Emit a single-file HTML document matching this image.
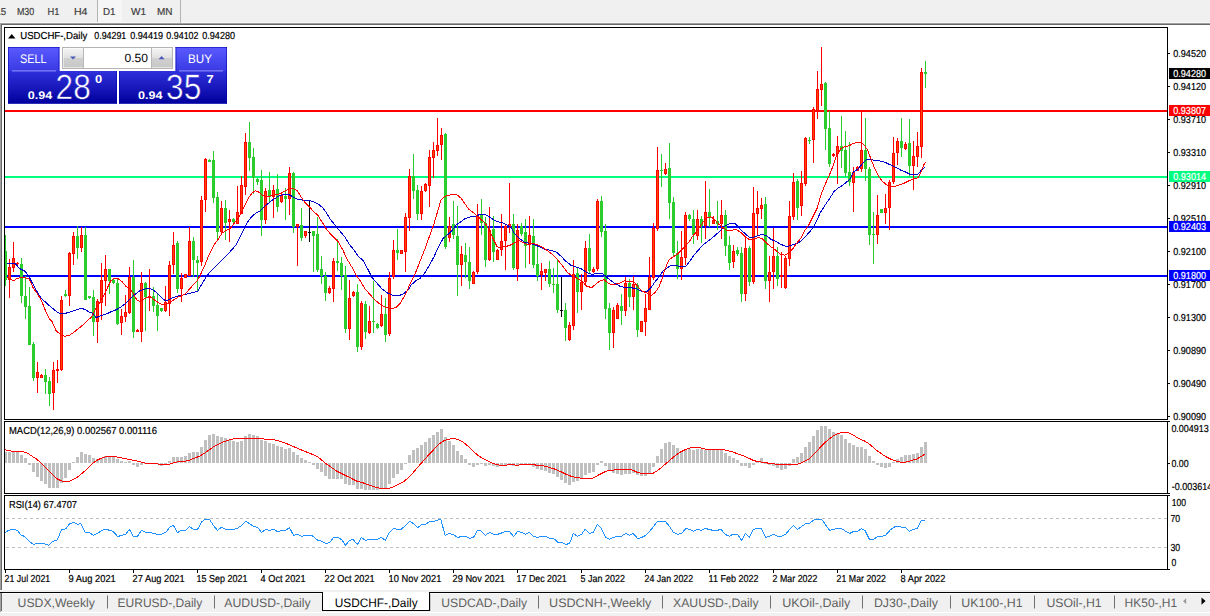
<!DOCTYPE html>
<html><head><meta charset="utf-8"><title>USDCHF Daily</title>
<style>
html,body{margin:0;padding:0;background:#fff;overflow:hidden}
svg{display:block;font-family:"Liberation Sans",sans-serif}
text{font-family:"Liberation Sans",sans-serif;text-rendering:geometricPrecision}
</style></head><body>
<svg width="1210" height="616" viewBox="0 0 1210 616">
<rect x="0" y="0" width="1210" height="616" fill="#fff" />
<rect x="0" y="0" width="1210" height="22" fill="#f0f0f0" />
<rect x="0" y="22" width="1210" height="1" fill="#f8f8f8" />
<rect x="0" y="23" width="1210" height="1" fill="#a0a0a0" />
<rect x="0" y="24" width="1210" height="1" fill="#696969" />
<rect x="0" y="23" width="1" height="567" fill="#a0a0a0" />
<rect x="1" y="24" width="1" height="566" fill="#696969" />
<rect x="97" y="0" width="1" height="22" fill="#b4b4b4" />
<rect x="98" y="0" width="24" height="22" fill="#f6f6f6" />
<rect x="180" y="0" width="1" height="23" fill="#b4b4b4" />
<text x="-4.6" y="15" font-size="10.1" fill="#404040" text-anchor="start" font-weight="normal" textLength="10.8" lengthAdjust="spacingAndGlyphs"  stroke="#404040" stroke-width="0.2">15</text>
<text x="16.9" y="15" font-size="10.1" fill="#404040" text-anchor="start" font-weight="normal" textLength="17.3" lengthAdjust="spacingAndGlyphs"  stroke="#404040" stroke-width="0.2">M30</text>
<text x="47.6" y="15" font-size="10.1" fill="#404040" text-anchor="start" font-weight="normal" textLength="11.9" lengthAdjust="spacingAndGlyphs"  stroke="#404040" stroke-width="0.2">H1</text>
<text x="74" y="15" font-size="10.1" fill="#404040" text-anchor="start" font-weight="normal" textLength="13.5" lengthAdjust="spacingAndGlyphs"  stroke="#404040" stroke-width="0.2">H4</text>
<text x="103" y="15" font-size="10.1" fill="#404040" text-anchor="start" font-weight="normal" textLength="12.5" lengthAdjust="spacingAndGlyphs"  stroke="#404040" stroke-width="0.2">D1</text>
<text x="131" y="15" font-size="10.1" fill="#404040" text-anchor="start" font-weight="normal" textLength="15" lengthAdjust="spacingAndGlyphs"  stroke="#404040" stroke-width="0.2">W1</text>
<text x="157" y="15" font-size="10.1" fill="#404040" text-anchor="start" font-weight="normal" textLength="15.5" lengthAdjust="spacingAndGlyphs"  stroke="#404040" stroke-width="0.2">MN</text>
<rect x="4" y="27" width="1164" height="1" fill="#000" />
<rect x="4" y="419" width="1164" height="1" fill="#000" />
<rect x="4" y="27" width="1" height="393" fill="#000" />
<rect x="1167" y="27" width="1" height="393" fill="#000" />
<rect x="4" y="421" width="1164" height="1" fill="#000" />
<rect x="4" y="493" width="1164" height="1" fill="#000" />
<rect x="4" y="421" width="1" height="73" fill="#000" />
<rect x="1167" y="421" width="1" height="73" fill="#000" />
<rect x="4" y="495" width="1164" height="1" fill="#000" />
<rect x="4" y="569" width="1164" height="1" fill="#000" />
<rect x="4" y="495" width="1" height="75" fill="#000" />
<rect x="1167" y="495" width="1" height="75" fill="#000" />
<g shape-rendering="crispEdges">
<rect x="5" y="110" width="1162" height="2" fill="#ff0000" />
<rect x="5" y="176" width="1162" height="2" fill="#00ff7f" />
<rect x="5" y="226" width="1162" height="2" fill="#0000ff" />
<rect x="5" y="275" width="1162" height="2" fill="#0000ff" />
<line x1="6" y1="518.5" x2="1167" y2="518.5" stroke="#c0c0c0" stroke-width="1" stroke-dasharray="3 3"/>
<line x1="6" y1="547.5" x2="1167" y2="547.5" stroke="#c0c0c0" stroke-width="1" stroke-dasharray="3 3"/>
<rect x="5" y="452" width="2" height="11" fill="#c0c0c0" />
<rect x="8" y="452" width="3" height="11" fill="#c0c0c0" />
<rect x="12" y="452" width="3" height="11" fill="#c0c0c0" />
<rect x="16" y="452" width="3" height="11" fill="#c0c0c0" />
<rect x="20" y="455" width="3" height="8" fill="#c0c0c0" />
<rect x="24" y="458" width="3" height="5" fill="#c0c0c0" />
<rect x="28" y="463" width="3" height="2" fill="#c0c0c0" />
<rect x="32" y="463" width="3" height="9" fill="#c0c0c0" />
<rect x="36" y="463" width="3" height="14" fill="#c0c0c0" />
<rect x="40" y="463" width="3" height="18" fill="#c0c0c0" />
<rect x="44" y="463" width="3" height="21" fill="#c0c0c0" />
<rect x="48" y="463" width="3" height="25" fill="#c0c0c0" />
<rect x="52" y="463" width="3" height="25" fill="#c0c0c0" />
<rect x="56" y="463" width="3" height="25" fill="#c0c0c0" />
<rect x="60" y="463" width="3" height="20" fill="#c0c0c0" />
<rect x="64" y="463" width="3" height="15" fill="#c0c0c0" />
<rect x="68" y="463" width="3" height="7" fill="#c0c0c0" />
<rect x="72" y="462" width="3" height="1" fill="#c0c0c0" />
<rect x="76" y="457" width="3" height="6" fill="#c0c0c0" />
<rect x="80" y="452" width="3" height="11" fill="#c0c0c0" />
<rect x="84" y="454" width="3" height="9" fill="#c0c0c0" />
<rect x="88" y="455" width="3" height="8" fill="#c0c0c0" />
<rect x="92" y="458" width="3" height="5" fill="#c0c0c0" />
<rect x="96" y="459" width="3" height="4" fill="#c0c0c0" />
<rect x="100" y="458" width="3" height="5" fill="#c0c0c0" />
<rect x="104" y="456" width="3" height="7" fill="#c0c0c0" />
<rect x="108" y="456" width="3" height="7" fill="#c0c0c0" />
<rect x="112" y="457" width="3" height="6" fill="#c0c0c0" />
<rect x="116" y="459" width="3" height="4" fill="#c0c0c0" />
<rect x="120" y="461" width="3" height="2" fill="#c0c0c0" />
<rect x="124" y="462" width="3" height="1" fill="#c0c0c0" />
<rect x="128" y="461" width="3" height="2" fill="#c0c0c0" />
<rect x="132" y="463" width="3" height="2" fill="#c0c0c0" />
<rect x="136" y="463" width="3" height="4" fill="#c0c0c0" />
<rect x="140" y="463" width="3" height="2" fill="#c0c0c0" />
<rect x="144" y="463" width="3" height="1" fill="#c0c0c0" />
<rect x="148" y="463" width="3" height="1" fill="#c0c0c0" />
<rect x="152" y="463" width="3" height="1" fill="#c0c0c0" />
<rect x="156" y="463" width="3" height="1" fill="#c0c0c0" />
<rect x="160" y="463" width="3" height="3" fill="#c0c0c0" />
<rect x="164" y="463" width="3" height="1" fill="#c0c0c0" />
<rect x="168" y="461" width="3" height="2" fill="#c0c0c0" />
<rect x="172" y="457" width="3" height="6" fill="#c0c0c0" />
<rect x="176" y="457" width="3" height="6" fill="#c0c0c0" />
<rect x="180" y="457" width="3" height="6" fill="#c0c0c0" />
<rect x="184" y="456" width="3" height="7" fill="#c0c0c0" />
<rect x="188" y="453" width="3" height="10" fill="#c0c0c0" />
<rect x="192" y="452" width="3" height="11" fill="#c0c0c0" />
<rect x="196" y="452" width="3" height="11" fill="#c0c0c0" />
<rect x="200" y="447" width="3" height="16" fill="#c0c0c0" />
<rect x="204" y="440" width="3" height="23" fill="#c0c0c0" />
<rect x="208" y="435" width="3" height="28" fill="#c0c0c0" />
<rect x="212" y="434" width="3" height="29" fill="#c0c0c0" />
<rect x="216" y="436" width="3" height="27" fill="#c0c0c0" />
<rect x="220" y="437" width="3" height="26" fill="#c0c0c0" />
<rect x="224" y="438" width="3" height="25" fill="#c0c0c0" />
<rect x="228" y="440" width="3" height="23" fill="#c0c0c0" />
<rect x="232" y="441" width="3" height="22" fill="#c0c0c0" />
<rect x="236" y="442" width="3" height="21" fill="#c0c0c0" />
<rect x="240" y="441" width="3" height="22" fill="#c0c0c0" />
<rect x="244" y="436" width="3" height="27" fill="#c0c0c0" />
<rect x="248" y="434" width="3" height="29" fill="#c0c0c0" />
<rect x="252" y="435" width="3" height="28" fill="#c0c0c0" />
<rect x="256" y="436" width="3" height="27" fill="#c0c0c0" />
<rect x="260" y="440" width="3" height="23" fill="#c0c0c0" />
<rect x="264" y="441" width="3" height="22" fill="#c0c0c0" />
<rect x="268" y="443" width="3" height="20" fill="#c0c0c0" />
<rect x="272" y="444" width="3" height="19" fill="#c0c0c0" />
<rect x="276" y="446" width="3" height="17" fill="#c0c0c0" />
<rect x="280" y="447" width="3" height="16" fill="#c0c0c0" />
<rect x="284" y="449" width="3" height="14" fill="#c0c0c0" />
<rect x="288" y="448" width="3" height="15" fill="#c0c0c0" />
<rect x="292" y="452" width="3" height="11" fill="#c0c0c0" />
<rect x="296" y="455" width="3" height="8" fill="#c0c0c0" />
<rect x="300" y="458" width="3" height="5" fill="#c0c0c0" />
<rect x="304" y="460" width="3" height="3" fill="#c0c0c0" />
<rect x="308" y="462" width="3" height="1" fill="#c0c0c0" />
<rect x="312" y="463" width="3" height="2" fill="#c0c0c0" />
<rect x="316" y="463" width="3" height="6" fill="#c0c0c0" />
<rect x="320" y="463" width="3" height="9" fill="#c0c0c0" />
<rect x="324" y="463" width="3" height="13" fill="#c0c0c0" />
<rect x="328" y="463" width="3" height="16" fill="#c0c0c0" />
<rect x="332" y="463" width="3" height="16" fill="#c0c0c0" />
<rect x="336" y="463" width="3" height="16" fill="#c0c0c0" />
<rect x="340" y="463" width="3" height="16" fill="#c0c0c0" />
<rect x="344" y="463" width="3" height="21" fill="#c0c0c0" />
<rect x="348" y="463" width="3" height="22" fill="#c0c0c0" />
<rect x="352" y="463" width="3" height="22" fill="#c0c0c0" />
<rect x="356" y="463" width="3" height="26" fill="#c0c0c0" />
<rect x="360" y="463" width="3" height="26" fill="#c0c0c0" />
<rect x="364" y="463" width="3" height="27" fill="#c0c0c0" />
<rect x="368" y="463" width="3" height="27" fill="#c0c0c0" />
<rect x="372" y="463" width="3" height="27" fill="#c0c0c0" />
<rect x="376" y="463" width="3" height="27" fill="#c0c0c0" />
<rect x="380" y="463" width="3" height="26" fill="#c0c0c0" />
<rect x="384" y="463" width="3" height="25" fill="#c0c0c0" />
<rect x="388" y="463" width="3" height="21" fill="#c0c0c0" />
<rect x="392" y="463" width="3" height="15" fill="#c0c0c0" />
<rect x="396" y="463" width="3" height="11" fill="#c0c0c0" />
<rect x="400" y="463" width="3" height="7" fill="#c0c0c0" />
<rect x="404" y="463" width="3" height="1" fill="#c0c0c0" />
<rect x="408" y="455" width="3" height="8" fill="#c0c0c0" />
<rect x="412" y="450" width="3" height="13" fill="#c0c0c0" />
<rect x="416" y="448" width="3" height="15" fill="#c0c0c0" />
<rect x="420" y="445" width="3" height="18" fill="#c0c0c0" />
<rect x="424" y="442" width="3" height="21" fill="#c0c0c0" />
<rect x="428" y="438" width="3" height="25" fill="#c0c0c0" />
<rect x="432" y="435" width="3" height="28" fill="#c0c0c0" />
<rect x="436" y="432" width="3" height="31" fill="#c0c0c0" />
<rect x="440" y="429" width="3" height="34" fill="#c0c0c0" />
<rect x="444" y="437" width="3" height="26" fill="#c0c0c0" />
<rect x="448" y="441" width="3" height="22" fill="#c0c0c0" />
<rect x="452" y="445" width="3" height="18" fill="#c0c0c0" />
<rect x="456" y="451" width="3" height="12" fill="#c0c0c0" />
<rect x="460" y="455" width="3" height="8" fill="#c0c0c0" />
<rect x="464" y="459" width="3" height="4" fill="#c0c0c0" />
<rect x="468" y="463" width="3" height="2" fill="#c0c0c0" />
<rect x="472" y="463" width="3" height="4" fill="#c0c0c0" />
<rect x="476" y="463" width="3" height="2" fill="#c0c0c0" />
<rect x="480" y="463" width="3" height="1" fill="#c0c0c0" />
<rect x="484" y="463" width="3" height="3" fill="#c0c0c0" />
<rect x="488" y="463" width="3" height="2" fill="#c0c0c0" />
<rect x="492" y="463" width="3" height="3" fill="#c0c0c0" />
<rect x="496" y="463" width="3" height="4" fill="#c0c0c0" />
<rect x="500" y="463" width="3" height="3" fill="#c0c0c0" />
<rect x="504" y="463" width="3" height="2" fill="#c0c0c0" />
<rect x="508" y="463" width="3" height="2" fill="#c0c0c0" />
<rect x="512" y="463" width="3" height="3" fill="#c0c0c0" />
<rect x="516" y="463" width="3" height="3" fill="#c0c0c0" />
<rect x="520" y="463" width="3" height="1" fill="#c0c0c0" />
<rect x="524" y="463" width="3" height="1" fill="#c0c0c0" />
<rect x="528" y="463" width="3" height="1" fill="#c0c0c0" />
<rect x="532" y="463" width="3" height="4" fill="#c0c0c0" />
<rect x="536" y="463" width="3" height="6" fill="#c0c0c0" />
<rect x="540" y="463" width="3" height="7" fill="#c0c0c0" />
<rect x="544" y="463" width="3" height="8" fill="#c0c0c0" />
<rect x="548" y="463" width="3" height="10" fill="#c0c0c0" />
<rect x="552" y="463" width="3" height="11" fill="#c0c0c0" />
<rect x="556" y="463" width="3" height="14" fill="#c0c0c0" />
<rect x="560" y="463" width="3" height="17" fill="#c0c0c0" />
<rect x="564" y="463" width="3" height="20" fill="#c0c0c0" />
<rect x="568" y="463" width="3" height="22" fill="#c0c0c0" />
<rect x="572" y="463" width="3" height="19" fill="#c0c0c0" />
<rect x="576" y="463" width="3" height="18" fill="#c0c0c0" />
<rect x="580" y="463" width="3" height="15" fill="#c0c0c0" />
<rect x="584" y="463" width="3" height="12" fill="#c0c0c0" />
<rect x="588" y="463" width="3" height="10" fill="#c0c0c0" />
<rect x="592" y="463" width="3" height="9" fill="#c0c0c0" />
<rect x="596" y="463" width="3" height="2" fill="#c0c0c0" />
<rect x="600" y="461" width="3" height="2" fill="#c0c0c0" />
<rect x="604" y="463" width="3" height="3" fill="#c0c0c0" />
<rect x="608" y="463" width="3" height="7" fill="#c0c0c0" />
<rect x="612" y="463" width="3" height="10" fill="#c0c0c0" />
<rect x="616" y="463" width="3" height="11" fill="#c0c0c0" />
<rect x="620" y="463" width="3" height="12" fill="#c0c0c0" />
<rect x="624" y="463" width="3" height="11" fill="#c0c0c0" />
<rect x="628" y="463" width="3" height="11" fill="#c0c0c0" />
<rect x="632" y="463" width="3" height="10" fill="#c0c0c0" />
<rect x="636" y="463" width="3" height="12" fill="#c0c0c0" />
<rect x="640" y="463" width="3" height="13" fill="#c0c0c0" />
<rect x="644" y="463" width="3" height="13" fill="#c0c0c0" />
<rect x="648" y="463" width="3" height="10" fill="#c0c0c0" />
<rect x="652" y="463" width="3" height="4" fill="#c0c0c0" />
<rect x="656" y="456" width="3" height="7" fill="#c0c0c0" />
<rect x="660" y="449" width="3" height="14" fill="#c0c0c0" />
<rect x="664" y="443" width="3" height="20" fill="#c0c0c0" />
<rect x="668" y="442" width="3" height="21" fill="#c0c0c0" />
<rect x="672" y="445" width="3" height="18" fill="#c0c0c0" />
<rect x="676" y="448" width="3" height="15" fill="#c0c0c0" />
<rect x="680" y="451" width="3" height="12" fill="#c0c0c0" />
<rect x="684" y="449" width="3" height="14" fill="#c0c0c0" />
<rect x="688" y="449" width="3" height="14" fill="#c0c0c0" />
<rect x="692" y="450" width="3" height="13" fill="#c0c0c0" />
<rect x="696" y="449" width="3" height="14" fill="#c0c0c0" />
<rect x="700" y="449" width="3" height="14" fill="#c0c0c0" />
<rect x="704" y="450" width="3" height="13" fill="#c0c0c0" />
<rect x="708" y="450" width="3" height="13" fill="#c0c0c0" />
<rect x="712" y="450" width="3" height="13" fill="#c0c0c0" />
<rect x="716" y="450" width="3" height="13" fill="#c0c0c0" />
<rect x="720" y="450" width="3" height="13" fill="#c0c0c0" />
<rect x="724" y="453" width="3" height="10" fill="#c0c0c0" />
<rect x="728" y="456" width="3" height="7" fill="#c0c0c0" />
<rect x="732" y="458" width="3" height="5" fill="#c0c0c0" />
<rect x="736" y="460" width="3" height="3" fill="#c0c0c0" />
<rect x="740" y="463" width="3" height="3" fill="#c0c0c0" />
<rect x="744" y="463" width="3" height="3" fill="#c0c0c0" />
<rect x="748" y="463" width="3" height="5" fill="#c0c0c0" />
<rect x="752" y="463" width="3" height="2" fill="#c0c0c0" />
<rect x="756" y="462" width="3" height="1" fill="#c0c0c0" />
<rect x="760" y="458" width="3" height="5" fill="#c0c0c0" />
<rect x="764" y="463" width="3" height="1" fill="#c0c0c0" />
<rect x="768" y="463" width="3" height="2" fill="#c0c0c0" />
<rect x="772" y="463" width="3" height="3" fill="#c0c0c0" />
<rect x="776" y="463" width="3" height="5" fill="#c0c0c0" />
<rect x="780" y="463" width="3" height="7" fill="#c0c0c0" />
<rect x="784" y="463" width="3" height="6" fill="#c0c0c0" />
<rect x="788" y="463" width="3" height="3" fill="#c0c0c0" />
<rect x="792" y="459" width="3" height="4" fill="#c0c0c0" />
<rect x="796" y="457" width="3" height="6" fill="#c0c0c0" />
<rect x="800" y="453" width="3" height="10" fill="#c0c0c0" />
<rect x="804" y="447" width="3" height="16" fill="#c0c0c0" />
<rect x="808" y="442" width="3" height="21" fill="#c0c0c0" />
<rect x="812" y="436" width="3" height="27" fill="#c0c0c0" />
<rect x="816" y="430" width="3" height="33" fill="#c0c0c0" />
<rect x="820" y="426" width="3" height="37" fill="#c0c0c0" />
<rect x="824" y="426" width="3" height="37" fill="#c0c0c0" />
<rect x="828" y="429" width="3" height="34" fill="#c0c0c0" />
<rect x="832" y="432" width="3" height="31" fill="#c0c0c0" />
<rect x="836" y="433" width="3" height="30" fill="#c0c0c0" />
<rect x="840" y="435" width="3" height="28" fill="#c0c0c0" />
<rect x="844" y="439" width="3" height="24" fill="#c0c0c0" />
<rect x="848" y="443" width="3" height="20" fill="#c0c0c0" />
<rect x="852" y="445" width="3" height="18" fill="#c0c0c0" />
<rect x="856" y="447" width="3" height="16" fill="#c0c0c0" />
<rect x="860" y="447" width="3" height="16" fill="#c0c0c0" />
<rect x="864" y="449" width="3" height="14" fill="#c0c0c0" />
<rect x="868" y="456" width="3" height="7" fill="#c0c0c0" />
<rect x="872" y="461" width="3" height="2" fill="#c0c0c0" />
<rect x="876" y="463" width="3" height="2" fill="#c0c0c0" />
<rect x="880" y="463" width="3" height="4" fill="#c0c0c0" />
<rect x="884" y="463" width="3" height="5" fill="#c0c0c0" />
<rect x="888" y="463" width="3" height="4" fill="#c0c0c0" />
<rect x="892" y="462" width="3" height="1" fill="#c0c0c0" />
<rect x="896" y="459" width="3" height="4" fill="#c0c0c0" />
<rect x="900" y="457" width="3" height="6" fill="#c0c0c0" />
<rect x="904" y="455" width="3" height="8" fill="#c0c0c0" />
<rect x="908" y="455" width="3" height="8" fill="#c0c0c0" />
<rect x="912" y="454" width="3" height="9" fill="#c0c0c0" />
<rect x="916" y="453" width="3" height="10" fill="#c0c0c0" />
<rect x="920" y="447" width="3" height="16" fill="#c0c0c0" />
<rect x="924" y="442" width="3" height="21" fill="#c0c0c0" />
</g>
<g shape-rendering="crispEdges">
<rect x="5" y="235" width="1" height="51" fill="#2ccc2c" />
<rect x="5" y="251" width="2" height="29" fill="#2ccc2c" />
<rect x="9" y="259" width="1" height="39" fill="#ff0000" />
<rect x="8" y="267" width="3" height="13" fill="#ff0000" />
<rect x="9" y="268" width="1" height="11" fill="#ff4500" />
<rect x="13" y="242" width="1" height="30" fill="#ff0000" />
<rect x="12" y="258" width="3" height="10" fill="#ff0000" />
<rect x="13" y="259" width="1" height="8" fill="#ff4500" />
<rect x="17" y="262" width="1" height="3" fill="#ff0000" />
<rect x="16" y="263" width="3" height="1" fill="#ff0000" />
<rect x="21" y="258" width="1" height="45" fill="#2ccc2c" />
<rect x="20" y="264" width="3" height="32" fill="#2ccc2c" />
<rect x="25" y="276" width="1" height="43" fill="#2ccc2c" />
<rect x="24" y="296" width="3" height="11" fill="#2ccc2c" />
<rect x="29" y="287" width="1" height="58" fill="#2ccc2c" />
<rect x="28" y="306" width="3" height="39" fill="#2ccc2c" />
<rect x="33" y="342" width="1" height="39" fill="#2ccc2c" />
<rect x="32" y="344" width="3" height="34" fill="#2ccc2c" />
<rect x="37" y="362" width="1" height="31" fill="#ff0000" />
<rect x="36" y="372" width="3" height="6" fill="#ff0000" />
<rect x="37" y="373" width="1" height="4" fill="#ff4500" />
<rect x="41" y="374" width="1" height="4" fill="#ff0000" />
<rect x="40" y="375" width="3" height="3" fill="#ff0000" />
<rect x="41" y="376" width="1" height="1" fill="#ff4500" />
<rect x="45" y="369" width="1" height="25" fill="#2ccc2c" />
<rect x="44" y="375" width="3" height="7" fill="#2ccc2c" />
<rect x="49" y="377" width="1" height="29" fill="#2ccc2c" />
<rect x="48" y="381" width="3" height="13" fill="#2ccc2c" />
<rect x="53" y="362" width="1" height="48" fill="#ff0000" />
<rect x="52" y="370" width="3" height="23" fill="#ff0000" />
<rect x="53" y="371" width="1" height="21" fill="#ff4500" />
<rect x="57" y="360" width="1" height="23" fill="#ff0000" />
<rect x="56" y="369" width="3" height="2" fill="#ff0000" />
<rect x="61" y="296" width="1" height="75" fill="#ff0000" />
<rect x="60" y="300" width="3" height="70" fill="#ff0000" />
<rect x="61" y="301" width="1" height="68" fill="#ff4500" />
<rect x="65" y="290" width="1" height="7" fill="#2ccc2c" />
<rect x="64" y="294" width="3" height="2" fill="#2ccc2c" />
<rect x="69" y="252" width="1" height="54" fill="#ff0000" />
<rect x="68" y="253" width="3" height="43" fill="#ff0000" />
<rect x="69" y="254" width="1" height="41" fill="#ff4500" />
<rect x="73" y="232" width="1" height="33" fill="#ff0000" />
<rect x="72" y="236" width="3" height="18" fill="#ff0000" />
<rect x="73" y="237" width="1" height="16" fill="#ff4500" />
<rect x="77" y="226" width="1" height="33" fill="#2ccc2c" />
<rect x="76" y="236" width="3" height="12" fill="#2ccc2c" />
<rect x="81" y="227" width="1" height="25" fill="#ff0000" />
<rect x="80" y="235" width="3" height="13" fill="#ff0000" />
<rect x="81" y="236" width="1" height="11" fill="#ff4500" />
<rect x="85" y="227" width="1" height="73" fill="#2ccc2c" />
<rect x="84" y="235" width="3" height="65" fill="#2ccc2c" />
<rect x="89" y="296" width="1" height="3" fill="#2ccc2c" />
<rect x="88" y="296" width="3" height="2" fill="#2ccc2c" />
<rect x="93" y="290" width="1" height="46" fill="#2ccc2c" />
<rect x="92" y="297" width="3" height="25" fill="#2ccc2c" />
<rect x="97" y="299" width="1" height="44" fill="#ff0000" />
<rect x="96" y="301" width="3" height="21" fill="#ff0000" />
<rect x="97" y="302" width="1" height="19" fill="#ff4500" />
<rect x="101" y="263" width="1" height="57" fill="#ff0000" />
<rect x="100" y="280" width="3" height="23" fill="#ff0000" />
<rect x="101" y="281" width="1" height="21" fill="#ff4500" />
<rect x="105" y="255" width="1" height="51" fill="#ff0000" />
<rect x="104" y="269" width="3" height="12" fill="#ff0000" />
<rect x="105" y="270" width="1" height="10" fill="#ff4500" />
<rect x="109" y="269" width="1" height="25" fill="#2ccc2c" />
<rect x="108" y="269" width="3" height="12" fill="#2ccc2c" />
<rect x="113" y="279" width="1" height="5" fill="#2ccc2c" />
<rect x="112" y="280" width="3" height="3" fill="#2ccc2c" />
<rect x="117" y="278" width="1" height="47" fill="#2ccc2c" />
<rect x="116" y="283" width="3" height="41" fill="#2ccc2c" />
<rect x="121" y="309" width="1" height="26" fill="#ff0000" />
<rect x="120" y="316" width="3" height="7" fill="#ff0000" />
<rect x="121" y="317" width="1" height="5" fill="#ff4500" />
<rect x="125" y="295" width="1" height="27" fill="#ff0000" />
<rect x="124" y="312" width="3" height="5" fill="#ff0000" />
<rect x="125" y="313" width="1" height="3" fill="#ff4500" />
<rect x="129" y="267" width="1" height="47" fill="#ff0000" />
<rect x="128" y="277" width="3" height="36" fill="#ff0000" />
<rect x="129" y="278" width="1" height="34" fill="#ff4500" />
<rect x="133" y="260" width="1" height="78" fill="#2ccc2c" />
<rect x="132" y="277" width="3" height="55" fill="#2ccc2c" />
<rect x="137" y="329" width="1" height="3" fill="#ff0000" />
<rect x="136" y="330" width="3" height="2" fill="#ff0000" />
<rect x="141" y="272" width="1" height="70" fill="#ff0000" />
<rect x="140" y="283" width="3" height="49" fill="#ff0000" />
<rect x="141" y="284" width="1" height="47" fill="#ff4500" />
<rect x="145" y="282" width="1" height="49" fill="#2ccc2c" />
<rect x="144" y="283" width="3" height="14" fill="#2ccc2c" />
<rect x="149" y="269" width="1" height="42" fill="#ff0000" />
<rect x="148" y="296" width="3" height="2" fill="#ff0000" />
<rect x="153" y="287" width="1" height="25" fill="#2ccc2c" />
<rect x="152" y="296" width="3" height="10" fill="#2ccc2c" />
<rect x="157" y="294" width="1" height="37" fill="#2ccc2c" />
<rect x="156" y="305" width="3" height="11" fill="#2ccc2c" />
<rect x="161" y="308" width="1" height="4" fill="#2ccc2c" />
<rect x="160" y="308" width="3" height="3" fill="#2ccc2c" />
<rect x="165" y="286" width="1" height="26" fill="#ff0000" />
<rect x="164" y="302" width="3" height="9" fill="#ff0000" />
<rect x="165" y="303" width="1" height="7" fill="#ff4500" />
<rect x="169" y="261" width="1" height="55" fill="#ff0000" />
<rect x="168" y="265" width="3" height="39" fill="#ff0000" />
<rect x="169" y="266" width="1" height="37" fill="#ff4500" />
<rect x="173" y="232" width="1" height="42" fill="#ff0000" />
<rect x="172" y="245" width="3" height="20" fill="#ff0000" />
<rect x="173" y="246" width="1" height="18" fill="#ff4500" />
<rect x="177" y="241" width="1" height="52" fill="#2ccc2c" />
<rect x="176" y="243" width="3" height="46" fill="#2ccc2c" />
<rect x="181" y="273" width="1" height="29" fill="#ff0000" />
<rect x="180" y="278" width="3" height="11" fill="#ff0000" />
<rect x="181" y="279" width="1" height="9" fill="#ff4500" />
<rect x="185" y="274" width="1" height="4" fill="#ff0000" />
<rect x="184" y="274" width="3" height="4" fill="#ff0000" />
<rect x="185" y="275" width="1" height="2" fill="#ff4500" />
<rect x="189" y="227" width="1" height="49" fill="#ff0000" />
<rect x="188" y="241" width="3" height="35" fill="#ff0000" />
<rect x="189" y="242" width="1" height="33" fill="#ff4500" />
<rect x="193" y="237" width="1" height="40" fill="#2ccc2c" />
<rect x="192" y="241" width="3" height="19" fill="#2ccc2c" />
<rect x="197" y="256" width="1" height="35" fill="#2ccc2c" />
<rect x="196" y="260" width="3" height="3" fill="#2ccc2c" />
<rect x="201" y="196" width="1" height="70" fill="#ff0000" />
<rect x="200" y="200" width="3" height="62" fill="#ff0000" />
<rect x="201" y="201" width="1" height="60" fill="#ff4500" />
<rect x="205" y="158" width="1" height="54" fill="#ff0000" />
<rect x="204" y="159" width="3" height="41" fill="#ff0000" />
<rect x="205" y="160" width="1" height="39" fill="#ff4500" />
<rect x="209" y="159" width="1" height="3" fill="#2ccc2c" />
<rect x="208" y="160" width="3" height="2" fill="#2ccc2c" />
<rect x="213" y="151" width="1" height="52" fill="#2ccc2c" />
<rect x="212" y="160" width="3" height="38" fill="#2ccc2c" />
<rect x="217" y="192" width="1" height="48" fill="#2ccc2c" />
<rect x="216" y="197" width="3" height="35" fill="#2ccc2c" />
<rect x="221" y="201" width="1" height="32" fill="#ff0000" />
<rect x="220" y="208" width="3" height="24" fill="#ff0000" />
<rect x="221" y="209" width="1" height="22" fill="#ff4500" />
<rect x="225" y="200" width="1" height="40" fill="#2ccc2c" />
<rect x="224" y="208" width="3" height="15" fill="#2ccc2c" />
<rect x="229" y="210" width="1" height="32" fill="#ff0000" />
<rect x="228" y="219" width="3" height="3" fill="#ff0000" />
<rect x="229" y="220" width="1" height="1" fill="#ff4500" />
<rect x="233" y="218" width="1" height="5" fill="#2ccc2c" />
<rect x="232" y="219" width="3" height="3" fill="#2ccc2c" />
<rect x="237" y="186" width="1" height="38" fill="#ff0000" />
<rect x="236" y="212" width="3" height="12" fill="#ff0000" />
<rect x="237" y="213" width="1" height="10" fill="#ff4500" />
<rect x="241" y="176" width="1" height="38" fill="#ff0000" />
<rect x="240" y="185" width="3" height="29" fill="#ff0000" />
<rect x="241" y="186" width="1" height="27" fill="#ff4500" />
<rect x="245" y="133" width="1" height="62" fill="#ff0000" />
<rect x="244" y="142" width="3" height="45" fill="#ff0000" />
<rect x="245" y="143" width="1" height="43" fill="#ff4500" />
<rect x="249" y="122" width="1" height="49" fill="#2ccc2c" />
<rect x="248" y="142" width="3" height="16" fill="#2ccc2c" />
<rect x="253" y="148" width="1" height="46" fill="#2ccc2c" />
<rect x="252" y="157" width="3" height="21" fill="#2ccc2c" />
<rect x="257" y="178" width="1" height="7" fill="#2ccc2c" />
<rect x="256" y="179" width="3" height="3" fill="#2ccc2c" />
<rect x="261" y="170" width="1" height="66" fill="#2ccc2c" />
<rect x="260" y="180" width="3" height="40" fill="#2ccc2c" />
<rect x="265" y="188" width="1" height="36" fill="#ff0000" />
<rect x="264" y="191" width="3" height="29" fill="#ff0000" />
<rect x="265" y="192" width="1" height="27" fill="#ff4500" />
<rect x="269" y="172" width="1" height="30" fill="#2ccc2c" />
<rect x="268" y="190" width="3" height="7" fill="#2ccc2c" />
<rect x="273" y="185" width="1" height="33" fill="#ff0000" />
<rect x="272" y="190" width="3" height="7" fill="#ff0000" />
<rect x="273" y="191" width="1" height="5" fill="#ff4500" />
<rect x="277" y="174" width="1" height="38" fill="#2ccc2c" />
<rect x="276" y="189" width="3" height="18" fill="#2ccc2c" />
<rect x="281" y="194" width="1" height="9" fill="#ff0000" />
<rect x="280" y="195" width="3" height="7" fill="#ff0000" />
<rect x="281" y="196" width="1" height="5" fill="#ff4500" />
<rect x="285" y="188" width="1" height="32" fill="#2ccc2c" />
<rect x="284" y="196" width="3" height="3" fill="#2ccc2c" />
<rect x="289" y="167" width="1" height="48" fill="#ff0000" />
<rect x="288" y="173" width="3" height="26" fill="#ff0000" />
<rect x="289" y="174" width="1" height="24" fill="#ff4500" />
<rect x="293" y="172" width="1" height="61" fill="#2ccc2c" />
<rect x="292" y="173" width="3" height="54" fill="#2ccc2c" />
<rect x="297" y="224" width="1" height="42" fill="#ff0000" />
<rect x="296" y="224" width="3" height="3" fill="#ff0000" />
<rect x="297" y="225" width="1" height="1" fill="#ff4500" />
<rect x="301" y="208" width="1" height="33" fill="#2ccc2c" />
<rect x="300" y="225" width="3" height="13" fill="#2ccc2c" />
<rect x="305" y="231" width="1" height="7" fill="#ff0000" />
<rect x="304" y="231" width="3" height="5" fill="#ff0000" />
<rect x="305" y="232" width="1" height="3" fill="#ff4500" />
<rect x="309" y="200" width="1" height="42" fill="#000000" />
<rect x="308" y="232" width="3" height="1" fill="#000000" />
<rect x="313" y="231" width="1" height="41" fill="#2ccc2c" />
<rect x="312" y="231" width="3" height="5" fill="#2ccc2c" />
<rect x="317" y="217" width="1" height="55" fill="#2ccc2c" />
<rect x="316" y="234" width="3" height="36" fill="#2ccc2c" />
<rect x="321" y="256" width="1" height="28" fill="#2ccc2c" />
<rect x="320" y="269" width="3" height="7" fill="#2ccc2c" />
<rect x="325" y="272" width="1" height="29" fill="#2ccc2c" />
<rect x="324" y="276" width="3" height="17" fill="#2ccc2c" />
<rect x="329" y="286" width="1" height="8" fill="#ff0000" />
<rect x="328" y="288" width="3" height="5" fill="#ff0000" />
<rect x="329" y="289" width="1" height="3" fill="#ff4500" />
<rect x="333" y="258" width="1" height="44" fill="#ff0000" />
<rect x="332" y="261" width="3" height="28" fill="#ff0000" />
<rect x="333" y="262" width="1" height="26" fill="#ff4500" />
<rect x="337" y="239" width="1" height="32" fill="#2ccc2c" />
<rect x="336" y="261" width="3" height="2" fill="#2ccc2c" />
<rect x="341" y="257" width="1" height="33" fill="#2ccc2c" />
<rect x="340" y="263" width="3" height="13" fill="#2ccc2c" />
<rect x="345" y="266" width="1" height="67" fill="#2ccc2c" />
<rect x="344" y="275" width="3" height="54" fill="#2ccc2c" />
<rect x="349" y="280" width="1" height="60" fill="#ff0000" />
<rect x="348" y="298" width="3" height="31" fill="#ff0000" />
<rect x="349" y="299" width="1" height="29" fill="#ff4500" />
<rect x="353" y="291" width="1" height="6" fill="#ff0000" />
<rect x="352" y="292" width="3" height="4" fill="#ff0000" />
<rect x="353" y="293" width="1" height="2" fill="#ff4500" />
<rect x="357" y="284" width="1" height="68" fill="#2ccc2c" />
<rect x="356" y="292" width="3" height="55" fill="#2ccc2c" />
<rect x="361" y="301" width="1" height="49" fill="#ff0000" />
<rect x="360" y="303" width="3" height="44" fill="#ff0000" />
<rect x="361" y="304" width="1" height="42" fill="#ff4500" />
<rect x="365" y="301" width="1" height="38" fill="#2ccc2c" />
<rect x="364" y="304" width="3" height="28" fill="#2ccc2c" />
<rect x="369" y="306" width="1" height="28" fill="#ff0000" />
<rect x="368" y="321" width="3" height="12" fill="#ff0000" />
<rect x="369" y="322" width="1" height="10" fill="#ff4500" />
<rect x="373" y="281" width="1" height="52" fill="#2ccc2c" />
<rect x="372" y="321" width="3" height="1" fill="#2ccc2c" />
<rect x="377" y="323" width="1" height="6" fill="#2ccc2c" />
<rect x="376" y="324" width="3" height="4" fill="#2ccc2c" />
<rect x="381" y="295" width="1" height="32" fill="#ff0000" />
<rect x="380" y="314" width="3" height="12" fill="#ff0000" />
<rect x="381" y="315" width="1" height="10" fill="#ff4500" />
<rect x="385" y="298" width="1" height="44" fill="#2ccc2c" />
<rect x="384" y="314" width="3" height="21" fill="#2ccc2c" />
<rect x="389" y="272" width="1" height="64" fill="#ff0000" />
<rect x="388" y="278" width="3" height="56" fill="#ff0000" />
<rect x="389" y="279" width="1" height="54" fill="#ff4500" />
<rect x="393" y="240" width="1" height="39" fill="#ff0000" />
<rect x="392" y="250" width="3" height="27" fill="#ff0000" />
<rect x="393" y="251" width="1" height="25" fill="#ff4500" />
<rect x="397" y="229" width="1" height="31" fill="#2ccc2c" />
<rect x="396" y="250" width="3" height="3" fill="#2ccc2c" />
<rect x="401" y="250" width="1" height="4" fill="#ff0000" />
<rect x="400" y="250" width="3" height="4" fill="#ff0000" />
<rect x="401" y="251" width="1" height="2" fill="#ff4500" />
<rect x="405" y="213" width="1" height="59" fill="#ff0000" />
<rect x="404" y="217" width="3" height="35" fill="#ff0000" />
<rect x="405" y="218" width="1" height="33" fill="#ff4500" />
<rect x="409" y="169" width="1" height="62" fill="#ff0000" />
<rect x="408" y="176" width="3" height="42" fill="#ff0000" />
<rect x="409" y="177" width="1" height="40" fill="#ff4500" />
<rect x="413" y="154" width="1" height="45" fill="#2ccc2c" />
<rect x="412" y="176" width="3" height="15" fill="#2ccc2c" />
<rect x="417" y="185" width="1" height="35" fill="#2ccc2c" />
<rect x="416" y="190" width="3" height="24" fill="#2ccc2c" />
<rect x="421" y="186" width="1" height="34" fill="#ff0000" />
<rect x="420" y="191" width="3" height="23" fill="#ff0000" />
<rect x="421" y="192" width="1" height="21" fill="#ff4500" />
<rect x="425" y="183" width="1" height="9" fill="#ff0000" />
<rect x="424" y="184" width="3" height="7" fill="#ff0000" />
<rect x="425" y="185" width="1" height="5" fill="#ff4500" />
<rect x="429" y="150" width="1" height="57" fill="#ff0000" />
<rect x="428" y="157" width="3" height="29" fill="#ff0000" />
<rect x="429" y="158" width="1" height="27" fill="#ff4500" />
<rect x="433" y="142" width="1" height="36" fill="#ff0000" />
<rect x="432" y="150" width="3" height="8" fill="#ff0000" />
<rect x="433" y="151" width="1" height="6" fill="#ff4500" />
<rect x="437" y="118" width="1" height="38" fill="#ff0000" />
<rect x="436" y="145" width="3" height="6" fill="#ff0000" />
<rect x="437" y="146" width="1" height="4" fill="#ff4500" />
<rect x="441" y="128" width="1" height="32" fill="#ff0000" />
<rect x="440" y="135" width="3" height="10" fill="#ff0000" />
<rect x="441" y="136" width="1" height="8" fill="#ff4500" />
<rect x="445" y="133" width="1" height="116" fill="#2ccc2c" />
<rect x="444" y="134" width="3" height="113" fill="#2ccc2c" />
<rect x="449" y="217" width="1" height="25" fill="#ff0000" />
<rect x="448" y="226" width="3" height="12" fill="#ff0000" />
<rect x="449" y="227" width="1" height="10" fill="#ff4500" />
<rect x="453" y="201" width="1" height="38" fill="#2ccc2c" />
<rect x="452" y="224" width="3" height="11" fill="#2ccc2c" />
<rect x="457" y="206" width="1" height="90" fill="#2ccc2c" />
<rect x="456" y="236" width="3" height="29" fill="#2ccc2c" />
<rect x="461" y="246" width="1" height="40" fill="#ff0000" />
<rect x="460" y="254" width="3" height="11" fill="#ff0000" />
<rect x="461" y="255" width="1" height="9" fill="#ff4500" />
<rect x="465" y="243" width="1" height="35" fill="#2ccc2c" />
<rect x="464" y="255" width="3" height="7" fill="#2ccc2c" />
<rect x="469" y="247" width="1" height="42" fill="#2ccc2c" />
<rect x="468" y="262" width="3" height="19" fill="#2ccc2c" />
<rect x="473" y="271" width="1" height="13" fill="#ff0000" />
<rect x="472" y="272" width="3" height="12" fill="#ff0000" />
<rect x="473" y="273" width="1" height="10" fill="#ff4500" />
<rect x="477" y="204" width="1" height="70" fill="#ff0000" />
<rect x="476" y="215" width="3" height="57" fill="#ff0000" />
<rect x="477" y="216" width="1" height="55" fill="#ff4500" />
<rect x="481" y="199" width="1" height="36" fill="#2ccc2c" />
<rect x="480" y="214" width="3" height="9" fill="#2ccc2c" />
<rect x="485" y="217" width="1" height="50" fill="#2ccc2c" />
<rect x="484" y="223" width="3" height="37" fill="#2ccc2c" />
<rect x="489" y="207" width="1" height="54" fill="#ff0000" />
<rect x="488" y="230" width="3" height="30" fill="#ff0000" />
<rect x="489" y="231" width="1" height="28" fill="#ff4500" />
<rect x="493" y="216" width="1" height="46" fill="#2ccc2c" />
<rect x="492" y="229" width="3" height="23" fill="#2ccc2c" />
<rect x="497" y="249" width="1" height="11" fill="#ff0000" />
<rect x="496" y="250" width="3" height="10" fill="#ff0000" />
<rect x="497" y="251" width="1" height="8" fill="#ff4500" />
<rect x="501" y="214" width="1" height="42" fill="#ff0000" />
<rect x="500" y="241" width="3" height="9" fill="#ff0000" />
<rect x="501" y="242" width="1" height="7" fill="#ff4500" />
<rect x="505" y="225" width="1" height="45" fill="#ff0000" />
<rect x="504" y="226" width="3" height="15" fill="#ff0000" />
<rect x="505" y="227" width="1" height="13" fill="#ff4500" />
<rect x="509" y="183" width="1" height="50" fill="#ff0000" />
<rect x="508" y="224" width="3" height="3" fill="#ff0000" />
<rect x="509" y="225" width="1" height="1" fill="#ff4500" />
<rect x="513" y="214" width="1" height="56" fill="#2ccc2c" />
<rect x="512" y="224" width="3" height="44" fill="#2ccc2c" />
<rect x="517" y="224" width="1" height="57" fill="#ff0000" />
<rect x="516" y="230" width="3" height="39" fill="#ff0000" />
<rect x="517" y="231" width="1" height="37" fill="#ff4500" />
<rect x="521" y="223" width="1" height="13" fill="#2ccc2c" />
<rect x="520" y="226" width="3" height="8" fill="#2ccc2c" />
<rect x="525" y="219" width="1" height="49" fill="#2ccc2c" />
<rect x="524" y="232" width="3" height="14" fill="#2ccc2c" />
<rect x="529" y="216" width="1" height="48" fill="#ff0000" />
<rect x="528" y="235" width="3" height="10" fill="#ff0000" />
<rect x="529" y="236" width="1" height="8" fill="#ff4500" />
<rect x="533" y="219" width="1" height="49" fill="#2ccc2c" />
<rect x="532" y="236" width="3" height="29" fill="#2ccc2c" />
<rect x="537" y="244" width="1" height="37" fill="#2ccc2c" />
<rect x="536" y="264" width="3" height="12" fill="#2ccc2c" />
<rect x="541" y="263" width="1" height="27" fill="#ff0000" />
<rect x="540" y="271" width="3" height="4" fill="#ff0000" />
<rect x="541" y="272" width="1" height="2" fill="#ff4500" />
<rect x="545" y="269" width="1" height="12" fill="#ff0000" />
<rect x="544" y="269" width="3" height="4" fill="#ff0000" />
<rect x="545" y="270" width="1" height="2" fill="#ff4500" />
<rect x="549" y="261" width="1" height="26" fill="#2ccc2c" />
<rect x="548" y="269" width="3" height="15" fill="#2ccc2c" />
<rect x="553" y="268" width="1" height="25" fill="#2ccc2c" />
<rect x="552" y="284" width="3" height="1" fill="#2ccc2c" />
<rect x="557" y="260" width="1" height="53" fill="#2ccc2c" />
<rect x="556" y="284" width="3" height="26" fill="#2ccc2c" />
<rect x="561" y="277" width="1" height="40" fill="#000000" />
<rect x="560" y="310" width="3" height="1" fill="#000000" />
<rect x="565" y="303" width="1" height="38" fill="#2ccc2c" />
<rect x="564" y="310" width="3" height="18" fill="#2ccc2c" />
<rect x="569" y="322" width="1" height="19" fill="#ff0000" />
<rect x="568" y="325" width="3" height="15" fill="#ff0000" />
<rect x="569" y="326" width="1" height="13" fill="#ff4500" />
<rect x="573" y="260" width="1" height="70" fill="#ff0000" />
<rect x="572" y="274" width="3" height="52" fill="#ff0000" />
<rect x="573" y="275" width="1" height="50" fill="#ff4500" />
<rect x="577" y="267" width="1" height="46" fill="#2ccc2c" />
<rect x="576" y="273" width="3" height="19" fill="#2ccc2c" />
<rect x="581" y="274" width="1" height="36" fill="#ff0000" />
<rect x="580" y="282" width="3" height="10" fill="#ff0000" />
<rect x="581" y="283" width="1" height="8" fill="#ff4500" />
<rect x="585" y="241" width="1" height="43" fill="#ff0000" />
<rect x="584" y="248" width="3" height="34" fill="#ff0000" />
<rect x="585" y="249" width="1" height="32" fill="#ff4500" />
<rect x="589" y="234" width="1" height="39" fill="#2ccc2c" />
<rect x="588" y="248" width="3" height="23" fill="#2ccc2c" />
<rect x="593" y="267" width="1" height="6" fill="#ff0000" />
<rect x="592" y="269" width="3" height="3" fill="#ff0000" />
<rect x="593" y="270" width="1" height="1" fill="#ff4500" />
<rect x="597" y="199" width="1" height="72" fill="#ff0000" />
<rect x="596" y="201" width="3" height="68" fill="#ff0000" />
<rect x="597" y="202" width="1" height="66" fill="#ff4500" />
<rect x="601" y="196" width="1" height="41" fill="#2ccc2c" />
<rect x="600" y="201" width="3" height="31" fill="#2ccc2c" />
<rect x="605" y="224" width="1" height="95" fill="#2ccc2c" />
<rect x="604" y="231" width="3" height="78" fill="#2ccc2c" />
<rect x="609" y="303" width="1" height="47" fill="#2ccc2c" />
<rect x="608" y="308" width="3" height="25" fill="#2ccc2c" />
<rect x="613" y="307" width="1" height="41" fill="#ff0000" />
<rect x="612" y="310" width="3" height="23" fill="#ff0000" />
<rect x="613" y="311" width="1" height="21" fill="#ff4500" />
<rect x="617" y="303" width="1" height="16" fill="#ff0000" />
<rect x="616" y="305" width="3" height="14" fill="#ff0000" />
<rect x="617" y="306" width="1" height="12" fill="#ff4500" />
<rect x="621" y="294" width="1" height="31" fill="#2ccc2c" />
<rect x="620" y="306" width="3" height="5" fill="#2ccc2c" />
<rect x="625" y="277" width="1" height="39" fill="#ff0000" />
<rect x="624" y="283" width="3" height="28" fill="#ff0000" />
<rect x="625" y="284" width="1" height="26" fill="#ff4500" />
<rect x="629" y="279" width="1" height="28" fill="#2ccc2c" />
<rect x="628" y="283" width="3" height="14" fill="#2ccc2c" />
<rect x="633" y="276" width="1" height="34" fill="#ff0000" />
<rect x="632" y="284" width="3" height="13" fill="#ff0000" />
<rect x="633" y="285" width="1" height="11" fill="#ff4500" />
<rect x="637" y="283" width="1" height="54" fill="#2ccc2c" />
<rect x="636" y="285" width="3" height="45" fill="#2ccc2c" />
<rect x="641" y="321" width="1" height="11" fill="#ff0000" />
<rect x="640" y="321" width="3" height="11" fill="#ff0000" />
<rect x="641" y="322" width="1" height="9" fill="#ff4500" />
<rect x="645" y="294" width="1" height="42" fill="#ff0000" />
<rect x="644" y="308" width="3" height="14" fill="#ff0000" />
<rect x="645" y="309" width="1" height="12" fill="#ff4500" />
<rect x="649" y="257" width="1" height="53" fill="#ff0000" />
<rect x="648" y="277" width="3" height="33" fill="#ff0000" />
<rect x="649" y="278" width="1" height="31" fill="#ff4500" />
<rect x="653" y="223" width="1" height="57" fill="#ff0000" />
<rect x="652" y="228" width="3" height="50" fill="#ff0000" />
<rect x="653" y="229" width="1" height="48" fill="#ff4500" />
<rect x="657" y="147" width="1" height="84" fill="#ff0000" />
<rect x="656" y="170" width="3" height="59" fill="#ff0000" />
<rect x="657" y="171" width="1" height="57" fill="#ff4500" />
<rect x="661" y="154" width="1" height="33" fill="#2ccc2c" />
<rect x="660" y="170" width="3" height="1" fill="#2ccc2c" />
<rect x="665" y="163" width="1" height="12" fill="#ff0000" />
<rect x="664" y="169" width="3" height="5" fill="#ff0000" />
<rect x="665" y="170" width="1" height="3" fill="#ff4500" />
<rect x="669" y="143" width="1" height="76" fill="#2ccc2c" />
<rect x="668" y="168" width="3" height="35" fill="#2ccc2c" />
<rect x="673" y="197" width="1" height="60" fill="#2ccc2c" />
<rect x="672" y="202" width="3" height="51" fill="#2ccc2c" />
<rect x="677" y="241" width="1" height="38" fill="#2ccc2c" />
<rect x="676" y="253" width="3" height="16" fill="#2ccc2c" />
<rect x="681" y="231" width="1" height="49" fill="#ff0000" />
<rect x="680" y="257" width="3" height="12" fill="#ff0000" />
<rect x="681" y="258" width="1" height="10" fill="#ff4500" />
<rect x="685" y="212" width="1" height="53" fill="#ff0000" />
<rect x="684" y="215" width="3" height="43" fill="#ff0000" />
<rect x="685" y="216" width="1" height="41" fill="#ff4500" />
<rect x="689" y="214" width="1" height="7" fill="#2ccc2c" />
<rect x="688" y="215" width="3" height="4" fill="#2ccc2c" />
<rect x="693" y="210" width="1" height="34" fill="#2ccc2c" />
<rect x="692" y="219" width="3" height="16" fill="#2ccc2c" />
<rect x="697" y="210" width="1" height="30" fill="#ff0000" />
<rect x="696" y="219" width="3" height="17" fill="#ff0000" />
<rect x="697" y="220" width="1" height="15" fill="#ff4500" />
<rect x="701" y="216" width="1" height="27" fill="#2ccc2c" />
<rect x="700" y="219" width="3" height="7" fill="#2ccc2c" />
<rect x="705" y="181" width="1" height="58" fill="#ff0000" />
<rect x="704" y="212" width="3" height="14" fill="#ff0000" />
<rect x="705" y="213" width="1" height="12" fill="#ff4500" />
<rect x="709" y="189" width="1" height="38" fill="#2ccc2c" />
<rect x="708" y="212" width="3" height="6" fill="#2ccc2c" />
<rect x="713" y="216" width="1" height="8" fill="#ff0000" />
<rect x="712" y="220" width="3" height="4" fill="#ff0000" />
<rect x="713" y="221" width="1" height="2" fill="#ff4500" />
<rect x="717" y="201" width="1" height="29" fill="#2ccc2c" />
<rect x="716" y="221" width="3" height="3" fill="#2ccc2c" />
<rect x="721" y="200" width="1" height="39" fill="#ff0000" />
<rect x="720" y="215" width="3" height="9" fill="#ff0000" />
<rect x="721" y="216" width="1" height="7" fill="#ff4500" />
<rect x="725" y="210" width="1" height="46" fill="#2ccc2c" />
<rect x="724" y="215" width="3" height="31" fill="#2ccc2c" />
<rect x="729" y="236" width="1" height="34" fill="#2ccc2c" />
<rect x="728" y="245" width="3" height="18" fill="#2ccc2c" />
<rect x="733" y="245" width="1" height="23" fill="#ff0000" />
<rect x="732" y="251" width="3" height="11" fill="#ff0000" />
<rect x="733" y="252" width="1" height="9" fill="#ff4500" />
<rect x="737" y="247" width="1" height="9" fill="#2ccc2c" />
<rect x="736" y="250" width="3" height="4" fill="#2ccc2c" />
<rect x="741" y="247" width="1" height="55" fill="#2ccc2c" />
<rect x="740" y="253" width="3" height="41" fill="#2ccc2c" />
<rect x="745" y="236" width="1" height="65" fill="#ff0000" />
<rect x="744" y="248" width="3" height="46" fill="#ff0000" />
<rect x="745" y="249" width="1" height="44" fill="#ff4500" />
<rect x="749" y="246" width="1" height="40" fill="#2ccc2c" />
<rect x="748" y="248" width="3" height="34" fill="#2ccc2c" />
<rect x="753" y="187" width="1" height="97" fill="#ff0000" />
<rect x="752" y="213" width="3" height="69" fill="#ff0000" />
<rect x="753" y="214" width="1" height="67" fill="#ff4500" />
<rect x="757" y="191" width="1" height="45" fill="#ff0000" />
<rect x="756" y="208" width="3" height="6" fill="#ff0000" />
<rect x="757" y="209" width="1" height="4" fill="#ff4500" />
<rect x="761" y="198" width="1" height="21" fill="#ff0000" />
<rect x="760" y="205" width="3" height="4" fill="#ff0000" />
<rect x="761" y="206" width="1" height="2" fill="#ff4500" />
<rect x="765" y="197" width="1" height="92" fill="#2ccc2c" />
<rect x="764" y="204" width="3" height="77" fill="#2ccc2c" />
<rect x="769" y="256" width="1" height="46" fill="#ff0000" />
<rect x="768" y="272" width="3" height="9" fill="#ff0000" />
<rect x="769" y="273" width="1" height="7" fill="#ff4500" />
<rect x="773" y="228" width="1" height="61" fill="#ff0000" />
<rect x="772" y="256" width="3" height="16" fill="#ff0000" />
<rect x="773" y="257" width="1" height="14" fill="#ff4500" />
<rect x="777" y="247" width="1" height="39" fill="#2ccc2c" />
<rect x="776" y="256" width="3" height="23" fill="#2ccc2c" />
<rect x="781" y="252" width="1" height="36" fill="#ff0000" />
<rect x="780" y="275" width="3" height="2" fill="#ff0000" />
<rect x="785" y="256" width="1" height="33" fill="#ff0000" />
<rect x="784" y="258" width="3" height="30" fill="#ff0000" />
<rect x="785" y="259" width="1" height="28" fill="#ff4500" />
<rect x="789" y="201" width="1" height="65" fill="#ff0000" />
<rect x="788" y="216" width="3" height="43" fill="#ff0000" />
<rect x="789" y="217" width="1" height="41" fill="#ff4500" />
<rect x="793" y="173" width="1" height="47" fill="#ff0000" />
<rect x="792" y="182" width="3" height="35" fill="#ff0000" />
<rect x="793" y="183" width="1" height="33" fill="#ff4500" />
<rect x="797" y="179" width="1" height="41" fill="#2ccc2c" />
<rect x="796" y="181" width="3" height="27" fill="#2ccc2c" />
<rect x="801" y="171" width="1" height="45" fill="#ff0000" />
<rect x="800" y="183" width="3" height="23" fill="#ff0000" />
<rect x="801" y="184" width="1" height="21" fill="#ff4500" />
<rect x="805" y="137" width="1" height="49" fill="#ff0000" />
<rect x="804" y="138" width="3" height="46" fill="#ff0000" />
<rect x="805" y="139" width="1" height="44" fill="#ff4500" />
<rect x="809" y="137" width="1" height="7" fill="#2ccc2c" />
<rect x="808" y="140" width="3" height="1" fill="#2ccc2c" />
<rect x="813" y="107" width="1" height="56" fill="#ff0000" />
<rect x="812" y="109" width="3" height="31" fill="#ff0000" />
<rect x="813" y="110" width="1" height="29" fill="#ff4500" />
<rect x="817" y="71" width="1" height="48" fill="#ff0000" />
<rect x="816" y="89" width="3" height="22" fill="#ff0000" />
<rect x="817" y="90" width="1" height="20" fill="#ff4500" />
<rect x="821" y="47" width="1" height="59" fill="#ff0000" />
<rect x="820" y="84" width="3" height="6" fill="#ff0000" />
<rect x="821" y="85" width="1" height="4" fill="#ff4500" />
<rect x="825" y="82" width="1" height="68" fill="#2ccc2c" />
<rect x="824" y="83" width="3" height="46" fill="#2ccc2c" />
<rect x="829" y="111" width="1" height="56" fill="#2ccc2c" />
<rect x="828" y="128" width="3" height="36" fill="#2ccc2c" />
<rect x="833" y="153" width="1" height="4" fill="#ff0000" />
<rect x="832" y="154" width="3" height="2" fill="#ff0000" />
<rect x="837" y="136" width="1" height="48" fill="#ff0000" />
<rect x="836" y="146" width="3" height="8" fill="#ff0000" />
<rect x="837" y="147" width="1" height="6" fill="#ff4500" />
<rect x="841" y="116" width="1" height="52" fill="#2ccc2c" />
<rect x="840" y="146" width="3" height="5" fill="#2ccc2c" />
<rect x="845" y="131" width="1" height="46" fill="#2ccc2c" />
<rect x="844" y="150" width="3" height="23" fill="#2ccc2c" />
<rect x="849" y="142" width="1" height="44" fill="#2ccc2c" />
<rect x="848" y="172" width="3" height="10" fill="#2ccc2c" />
<rect x="853" y="167" width="1" height="45" fill="#ff0000" />
<rect x="852" y="172" width="3" height="11" fill="#ff0000" />
<rect x="853" y="173" width="1" height="9" fill="#ff4500" />
<rect x="857" y="166" width="1" height="5" fill="#ff0000" />
<rect x="856" y="167" width="3" height="4" fill="#ff0000" />
<rect x="857" y="168" width="1" height="2" fill="#ff4500" />
<rect x="861" y="111" width="1" height="61" fill="#ff0000" />
<rect x="860" y="150" width="3" height="19" fill="#ff0000" />
<rect x="861" y="151" width="1" height="17" fill="#ff4500" />
<rect x="865" y="118" width="1" height="63" fill="#2ccc2c" />
<rect x="864" y="150" width="3" height="19" fill="#2ccc2c" />
<rect x="869" y="167" width="1" height="78" fill="#2ccc2c" />
<rect x="868" y="169" width="3" height="66" fill="#2ccc2c" />
<rect x="873" y="212" width="1" height="52" fill="#2ccc2c" />
<rect x="872" y="234" width="3" height="1" fill="#2ccc2c" />
<rect x="877" y="195" width="1" height="49" fill="#ff0000" />
<rect x="876" y="215" width="3" height="20" fill="#ff0000" />
<rect x="877" y="216" width="1" height="18" fill="#ff4500" />
<rect x="881" y="209" width="1" height="4" fill="#2ccc2c" />
<rect x="880" y="209" width="3" height="4" fill="#2ccc2c" />
<rect x="885" y="194" width="1" height="30" fill="#ff0000" />
<rect x="884" y="208" width="3" height="5" fill="#ff0000" />
<rect x="885" y="209" width="1" height="3" fill="#ff4500" />
<rect x="889" y="180" width="1" height="50" fill="#ff0000" />
<rect x="888" y="182" width="3" height="26" fill="#ff0000" />
<rect x="889" y="183" width="1" height="24" fill="#ff4500" />
<rect x="893" y="137" width="1" height="47" fill="#ff0000" />
<rect x="892" y="153" width="3" height="29" fill="#ff0000" />
<rect x="893" y="154" width="1" height="27" fill="#ff4500" />
<rect x="897" y="138" width="1" height="27" fill="#ff0000" />
<rect x="896" y="141" width="3" height="12" fill="#ff0000" />
<rect x="897" y="142" width="1" height="10" fill="#ff4500" />
<rect x="901" y="118" width="1" height="39" fill="#2ccc2c" />
<rect x="900" y="141" width="3" height="7" fill="#2ccc2c" />
<rect x="905" y="142" width="1" height="8" fill="#ff0000" />
<rect x="904" y="144" width="3" height="5" fill="#ff0000" />
<rect x="905" y="145" width="1" height="3" fill="#ff4500" />
<rect x="909" y="119" width="1" height="58" fill="#2ccc2c" />
<rect x="908" y="143" width="3" height="23" fill="#2ccc2c" />
<rect x="913" y="141" width="1" height="49" fill="#ff0000" />
<rect x="912" y="156" width="3" height="10" fill="#ff0000" />
<rect x="913" y="157" width="1" height="8" fill="#ff4500" />
<rect x="917" y="132" width="1" height="35" fill="#ff0000" />
<rect x="916" y="146" width="3" height="11" fill="#ff0000" />
<rect x="917" y="147" width="1" height="9" fill="#ff4500" />
<rect x="921" y="68" width="1" height="90" fill="#ff0000" />
<rect x="920" y="72" width="3" height="75" fill="#ff0000" />
<rect x="921" y="73" width="1" height="73" fill="#ff4500" />
<rect x="925" y="61" width="1" height="27" fill="#2ccc2c" />
<rect x="924" y="72" width="3" height="2" fill="#2ccc2c" />
</g>
<polyline points="7.0,263.1 15.0,263.6 20.0,268.8 25.0,271.3 29.0,276.6 33.0,284.3 37.0,291.6 41.0,298.0 49.0,305.4 57.0,311.9 61.0,313.8 65.0,313.5 73.0,311.0 81.0,308.3 85.0,309.4 89.0,311.9 93.0,313.5 96.0,317.6 101.0,315.7 107.0,313.7 111.0,311.8 116.0,309.8 121.0,306.9 126.0,303.0 131.0,298.1 135.0,294.3 139.0,291.3 143.0,289.4 147.0,288.4 151.0,289.0 155.0,291.3 159.0,295.2 163.0,299.1 166.0,301.1 170.0,299.1 174.0,297.2 180.0,295.6 186.0,294.3 190.0,293.3 194.0,292.3 198.0,290.9 201.0,285.5 205.0,278.7 210.0,272.0 220.0,262.0 228.0,254.0 236.0,245.0 240.0,237.4 244.0,228.9 248.0,221.5 252.0,216.3 256.0,213.1 260.0,211.0 264.0,206.8 268.0,203.6 272.0,200.4 276.0,197.8 280.0,195.5 284.0,194.6 288.0,194.2 292.0,196.2 297.0,199.2 303.0,200.1 309.0,200.5 314.0,202.1 319.0,204.7 323.0,207.9 327.0,213.8 331.0,220.3 336.0,226.1 340.0,231.3 345.0,237.1 349.0,243.8 354.0,250.2 358.0,255.9 363.0,260.5 368.0,269.5 372.0,277.5 377.0,283.2 382.0,288.9 388.0,293.4 394.0,295.7 399.0,295.7 404.0,293.4 408.0,290.0 411.0,285.2 416.0,280.7 420.0,278.4 425.0,272.7 429.0,265.9 434.0,256.8 438.0,247.7 443.0,238.6 447.0,235.2 452.0,230.7 456.0,225.0 461.0,221.6 465.0,218.6 470.0,217.0 475.0,216.4 479.0,214.8 484.0,214.0 488.0,215.9 493.0,219.3 497.0,221.6 502.0,222.7 506.0,224.5 511.0,227.5 514.0,232.9 519.0,238.0 524.0,241.9 529.0,243.2 535.0,245.0 540.0,247.1 545.0,249.2 550.0,250.3 556.0,251.8 561.0,256.2 566.0,261.4 571.0,265.3 577.0,267.4 582.0,269.2 587.0,272.6 592.0,274.4 597.0,273.6 602.0,273.1 608.0,278.3 613.0,282.2 618.0,285.2 621.0,286.8 626.0,287.3 631.0,287.7 636.0,288.7 641.0,291.0 647.0,291.6 651.0,287.7 655.0,281.9 659.0,277.0 663.0,271.2 667.0,267.8 671.0,265.6 676.0,265.6 681.0,266.8 686.0,266.0 690.0,261.0 694.0,255.0 698.0,250.5 702.0,246.0 706.0,242.5 711.0,239.0 715.0,235.5 719.0,232.0 724.0,226.6 728.0,224.4 732.0,223.3 736.0,224.1 740.0,229.1 745.0,233.6 749.0,237.0 754.0,237.0 758.0,235.5 762.0,234.3 767.0,235.9 771.0,239.3 776.0,241.6 780.0,243.9 785.0,246.1 789.0,246.1 794.0,244.5 798.0,243.2 803.0,239.3 807.0,234.8 812.0,229.1 816.0,222.3 820.0,213.2 825.0,205.2 829.0,199.5 834.0,191.5 838.0,188.0 842.0,185.8 846.0,182.6 850.0,179.0 854.0,171.5 858.0,169.0 862.0,164.2 866.0,159.8 870.0,159.3 875.0,160.5 880.0,161.0 885.0,162.3 890.0,164.7 895.0,166.8 900.0,169.8 905.0,171.7 910.0,174.2 914.0,174.2 918.0,174.2 921.0,170.5 925.0,166.9" fill="none" stroke="#0000cd" stroke-width="1" shape-rendering="crispEdges"/>
<polyline points="7.0,277.0 11.0,279.4 13.0,281.0 17.0,278.6 21.0,277.3 25.0,277.8 29.0,278.6 33.0,287.5 37.0,293.2 41.0,299.7 45.0,309.4 49.0,318.3 52.0,321.6 56.0,330.6 61.0,334.9 65.0,336.2 69.0,335.4 73.0,333.0 77.0,329.7 81.0,326.5 85.0,323.2 88.0,320.0 91.0,317.5 93.0,314.3 96.0,307.9 100.0,302.0 104.0,295.2 108.0,286.5 111.0,280.6 114.0,278.1 118.0,278.7 122.0,281.6 126.0,286.5 130.0,288.4 133.0,293.3 137.0,300.1 140.0,301.7 144.0,299.1 148.0,297.2 152.0,298.1 156.0,301.1 160.0,303.6 163.0,305.0 167.0,304.0 171.0,301.7 175.0,299.1 179.0,296.6 183.0,295.2 186.0,293.3 190.0,288.4 194.0,284.1 197.0,281.0 200.0,275.8 203.0,268.9 205.0,264.7 209.0,255.0 214.0,245.0 218.0,239.5 222.0,233.1 226.0,230.6 230.0,228.9 234.0,223.6 238.0,218.4 241.0,213.1 245.0,204.7 249.0,197.3 252.0,193.1 255.0,190.9 258.0,191.4 261.0,194.1 264.0,196.2 268.0,196.9 272.0,195.3 277.0,194.4 281.0,193.4 285.0,191.0 289.0,189.0 293.0,188.7 297.0,190.3 301.0,196.9 305.0,202.7 309.0,206.6 314.0,211.8 318.0,215.5 322.0,222.0 327.0,230.0 332.0,235.5 338.0,241.5 343.0,250.2 347.0,259.0 352.0,267.3 356.0,275.2 361.0,282.0 365.0,288.9 370.0,294.5 375.0,300.2 381.0,304.8 386.0,307.7 391.0,308.6 396.0,307.5 400.0,303.6 404.0,297.0 407.0,291.0 411.0,281.8 416.0,271.6 420.0,261.4 425.0,248.9 429.0,237.5 434.0,223.9 438.0,210.2 441.0,199.8 445.0,196.4 449.0,195.2 453.0,194.1 457.0,194.8 461.0,198.2 465.0,203.8 469.0,209.5 473.0,212.4 477.0,215.8 481.0,219.5 485.0,222.7 489.0,229.5 493.0,238.6 497.0,246.6 499.0,247.7 504.0,246.5 509.0,245.8 514.0,243.2 519.0,240.6 522.0,241.9 527.0,244.5 532.0,243.2 537.0,244.5 543.0,247.7 548.0,251.0 553.0,254.9 558.0,260.1 563.0,266.6 568.0,273.1 572.0,275.7 577.0,278.3 582.0,280.9 587.0,286.6 592.0,287.4 595.0,284.8 600.0,280.9 604.0,279.6 608.0,283.0 612.0,284.8 617.0,283.9 620.0,282.9 624.0,280.9 629.0,281.3 634.0,281.9 638.0,286.8 642.0,291.0 646.0,292.6 651.0,295.5 655.0,292.6 659.0,286.8 662.0,279.0 665.0,269.0 669.0,259.8 673.0,257.0 677.0,254.5 681.0,250.5 685.0,246.5 689.0,242.0 693.0,235.7 697.0,231.1 700.0,226.6 704.0,220.9 707.0,217.5 711.0,216.8 715.0,219.8 719.0,224.3 723.0,227.7 727.0,230.5 732.0,230.2 736.0,229.5 741.0,232.5 745.0,236.4 749.0,239.3 754.0,239.3 758.0,237.7 762.0,238.2 766.0,242.7 770.0,246.1 775.0,249.5 780.0,254.1 785.0,255.2 789.0,253.0 793.0,248.4 797.0,242.7 801.0,238.2 805.0,230.2 809.0,224.5 813.0,216.6 817.0,208.6 821.0,195.0 825.0,184.8 829.0,176.0 833.0,166.0 837.0,154.4 841.0,148.4 845.0,146.6 849.0,145.9 853.0,143.5 857.0,142.3 861.0,142.3 864.0,144.7 868.0,150.8 871.0,159.3 875.0,169.0 879.0,177.0 883.0,182.0 887.0,185.0 891.0,186.5 895.0,186.3 900.0,184.8 905.0,182.8 910.0,180.3 914.0,179.0 918.0,177.8 921.0,171.7 924.0,164.4 926.0,162.0" fill="none" stroke="#ff0000" stroke-width="1" shape-rendering="crispEdges"/>
<polyline points="5.0,449.8 13.0,451.5 21.0,451.5 25.0,452.1 29.0,454.1 33.0,456.8 37.0,459.4 41.0,463.0 45.0,466.9 49.0,470.9 53.0,474.9 57.0,478.8 61.0,480.8 65.0,481.8 69.0,481.5 73.0,479.5 77.0,477.5 81.0,474.2 85.0,470.9 89.0,466.9 93.0,463.0 97.0,460.3 101.0,458.3 105.0,457.0 109.0,456.4 113.0,456.4 117.0,457.0 121.0,457.7 125.0,458.6 129.0,459.4 133.0,460.1 137.0,461.0 141.0,462.0 145.0,463.0 149.0,463.4 153.0,463.6 157.0,463.9 161.0,464.7 169.0,464.3 173.0,463.0 177.0,462.0 181.0,461.4 185.0,461.4 189.0,460.3 193.0,458.6 197.0,457.3 201.0,455.4 205.0,452.8 209.0,450.1 213.0,447.1 217.0,445.1 221.0,443.1 225.0,441.2 229.0,440.1 233.0,438.9 237.0,438.2 241.0,438.2 249.0,438.2 257.0,438.2 261.0,438.2 265.0,439.2 269.0,439.4 273.0,439.4 277.0,440.5 281.0,441.6 285.0,442.9 289.0,444.7 293.0,446.4 297.0,448.0 301.0,449.8 305.0,451.4 309.0,453.1 313.0,454.6 317.0,456.4 321.0,459.4 325.0,463.0 329.0,465.6 333.0,468.5 337.0,471.3 341.0,473.3 345.0,475.3 349.0,477.1 353.0,479.2 357.0,481.2 361.0,482.2 365.0,483.5 369.0,485.1 373.0,486.5 377.0,487.4 381.0,488.4 385.0,488.5 389.0,488.4 393.0,487.2 397.0,485.2 401.0,483.2 405.0,480.6 409.0,476.9 413.0,472.9 417.0,467.9 421.0,463.6 425.0,459.0 429.0,454.6 433.0,450.4 437.0,445.8 441.0,442.5 445.0,440.2 449.0,439.2 453.0,438.4 457.0,439.3 461.0,440.9 465.0,443.5 469.0,447.1 473.0,451.1 477.0,454.6 481.0,457.3 485.0,459.4 489.0,461.4 493.0,463.4 497.0,464.6 501.0,465.4 505.0,465.4 509.0,464.6 513.0,464.6 517.0,465.4 521.0,464.6 525.0,464.3 533.0,464.3 537.0,465.4 541.0,465.4 545.0,466.3 549.0,467.3 553.0,468.5 557.0,469.9 561.0,471.8 565.0,473.8 569.0,475.5 573.0,476.9 577.0,477.5 581.0,478.2 589.0,478.2 593.0,478.2 597.0,475.8 601.0,473.8 605.0,471.8 609.0,470.2 613.0,470.2 617.0,469.3 625.0,469.3 629.0,469.3 633.0,470.2 637.0,472.2 641.0,473.3 649.0,473.3 653.0,473.3 657.0,470.9 661.0,468.0 665.0,464.3 669.0,461.0 673.0,457.4 677.0,454.4 681.0,451.7 685.0,449.8 689.0,448.2 693.0,447.4 697.0,447.4 701.0,448.0 705.0,449.1 713.0,449.1 721.0,449.1 725.0,450.1 729.0,451.1 733.0,452.1 737.0,453.5 741.0,455.0 745.0,456.4 749.0,458.3 753.0,460.2 757.0,461.5 761.0,462.0 765.0,462.3 769.0,463.4 773.0,463.6 777.0,464.3 785.0,464.6 793.0,464.6 797.0,464.3 801.0,463.0 805.0,461.0 809.0,459.0 813.0,455.0 817.0,451.1 821.0,446.4 825.0,442.5 829.0,439.2 833.0,436.1 837.0,434.1 841.0,432.6 845.0,432.3 849.0,433.0 853.0,434.8 857.0,437.5 861.0,439.6 865.0,441.2 869.0,443.8 873.0,447.1 877.0,450.7 881.0,453.4 885.0,456.2 889.0,458.3 893.0,460.1 897.0,461.4 901.0,462.3 905.0,462.3 909.0,461.4 913.0,460.1 917.0,459.0 921.0,456.4 925.0,454.1" fill="none" stroke="#ff0000" stroke-width="1" shape-rendering="crispEdges"/>
<polyline points="5.3,532.3 8.6,530.4 12.6,529.4 15.2,529.4 17.9,531.0 21.2,535.3 24.5,536.3 27.1,539.0 30.4,542.3 33.7,544.2 36.4,543.6 43.0,543.6 45.6,544.2 48.9,545.3 52.9,541.3 56.9,540.0 58.8,536.3 61.5,529.4 65.5,529.0 69.4,524.1 73.4,522.2 77.4,524.4 80.7,523.4 85.3,532.3 89.3,532.6 93.6,535.3 97.9,533.0 101.2,530.8 104.5,529.4 107.8,529.7 109.8,530.6 113.1,531.3 117.7,536.6 121.7,535.3 125.6,534.3 129.3,529.4 133.3,536.3 137.5,536.3 141.5,530.1 145.5,532.3 150.0,532.4 153.3,533.4 157.3,534.3 161.2,534.3 165.9,532.3 169.8,527.1 173.5,525.5 177.5,532.6 181.1,530.4 185.4,530.4 189.4,526.4 193.6,529.4 197.6,529.4 201.6,521.8 205.5,519.1 209.5,519.4 213.5,525.5 217.4,530.4 221.4,527.3 225.4,529.4 229.3,529.4 234.0,529.4 237.3,528.4 241.2,525.7 245.9,521.4 249.8,523.8 253.8,526.4 257.8,527.7 261.5,532.6 265.7,529.4 269.7,530.4 273.6,529.4 277.6,531.7 281.6,530.4 285.5,530.4 289.5,527.7 293.5,535.3 297.4,534.3 302.0,536.5 304.0,535.4 311.9,535.4 317.9,540.3 321.8,541.3 325.8,543.6 329.8,542.3 333.7,537.4 337.7,537.4 341.7,539.6 345.6,545.3 349.6,540.3 352.9,539.4 357.5,544.5 361.5,537.4 365.5,540.5 369.4,539.4 377.4,539.4 381.3,537.4 385.3,540.3 389.3,532.6 393.9,528.4 397.2,529.4 401.2,529.4 409.8,521.4 413.1,523.4 417.7,527.5 421.7,524.7 425.6,524.4 429.6,521.5 433.6,521.4 437.5,520.2 440.8,519.1 445.1,535.4 449.4,533.4 453.6,534.7 457.9,537.5 461.9,536.3 465.9,536.3 469.8,538.6 473.8,537.0 477.5,530.4 481.1,531.0 485.4,535.4 489.7,532.3 493.6,534.3 497.6,534.3 501.6,533.0 505.5,531.4 509.5,531.4 513.5,536.6 517.7,531.4 522.1,532.6 525.4,534.3 529.1,532.3 533.6,536.3 537.3,537.4 541.2,536.3 545.9,536.3 549.8,538.3 553.8,538.6 557.8,542.3 561.7,542.3 566.1,544.5 569.7,543.3 573.2,533.4 577.6,536.3 581.6,534.3 585.1,529.4 589.5,533.4 593.5,532.3 597.4,524.4 601.4,528.6 605.4,537.0 609.3,539.4 613.2,537.4 617.2,536.3 621.2,536.3 625.8,533.4 629.8,535.3 633.1,533.4 637.7,538.6 641.7,537.4 645.6,535.4 649.6,531.4 653.6,526.4 657.5,521.4 665.5,521.4 669.4,526.4 673.4,532.3 678.0,534.3 682.0,533.0 686.0,528.4 689.9,529.4 693.6,531.4 697.2,529.4 701.2,530.4 705.1,528.4 709.1,529.4 713.1,530.4 717.0,530.4 721.0,529.4 725.0,534.3 729.3,536.3 732.9,534.3 737.5,534.3 741.5,540.5 745.5,533.4 749.4,537.4 753.4,529.4 756.7,528.4 761.2,528.4 765.6,537.4 769.8,536.3 773.5,534.3 777.5,536.3 781.5,536.3 785.7,534.1 789.7,529.4 793.4,525.5 797.6,529.4 801.6,526.4 805.5,523.8 809.5,523.4 813.5,520.2 817.4,519.1 821.8,519.4 826.0,525.5 829.7,530.4 834.0,529.4 837.3,528.4 841.2,528.4 845.9,531.4 849.6,533.4 853.8,531.4 857.8,531.4 861.5,528.6 865.0,530.4 869.4,539.4 873.6,539.4 877.6,536.6 881.6,536.3 885.5,535.4 890.8,529.4 895.5,526.4 899.4,526.4 902.1,527.5 905.8,527.5 909.5,531.4 913.0,529.4 917.4,528.4 921.4,520.4 925.0,520.4" fill="none" stroke="#1e90ff" stroke-width="1" shape-rendering="crispEdges"/>
<rect x="1168" y="53" width="2" height="1" fill="#000" />
<text x="1173.3" y="57" font-size="10.1" fill="#000" text-anchor="start" font-weight="normal" textLength="32.7" lengthAdjust="spacingAndGlyphs"  stroke="#000" stroke-width="0.2">0.94520</text>
<rect x="1168" y="86" width="2" height="1" fill="#000" />
<text x="1173.3" y="90" font-size="10.1" fill="#000" text-anchor="start" font-weight="normal" textLength="32.7" lengthAdjust="spacingAndGlyphs"  stroke="#000" stroke-width="0.2">0.94120</text>
<rect x="1168" y="119" width="2" height="1" fill="#000" />
<text x="1173.3" y="123" font-size="10.1" fill="#000" text-anchor="start" font-weight="normal" textLength="32.7" lengthAdjust="spacingAndGlyphs"  stroke="#000" stroke-width="0.2">0.93710</text>
<rect x="1168" y="152" width="2" height="1" fill="#000" />
<text x="1173.3" y="156" font-size="10.1" fill="#000" text-anchor="start" font-weight="normal" textLength="32.7" lengthAdjust="spacingAndGlyphs"  stroke="#000" stroke-width="0.2">0.93310</text>
<rect x="1168" y="185" width="2" height="1" fill="#000" />
<text x="1173.3" y="189" font-size="10.1" fill="#000" text-anchor="start" font-weight="normal" textLength="32.7" lengthAdjust="spacingAndGlyphs"  stroke="#000" stroke-width="0.2">0.92910</text>
<rect x="1168" y="218" width="2" height="1" fill="#000" />
<text x="1173.3" y="222" font-size="10.1" fill="#000" text-anchor="start" font-weight="normal" textLength="32.7" lengthAdjust="spacingAndGlyphs"  stroke="#000" stroke-width="0.2">0.92510</text>
<rect x="1168" y="251" width="2" height="1" fill="#000" />
<text x="1173.3" y="255" font-size="10.1" fill="#000" text-anchor="start" font-weight="normal" textLength="32.7" lengthAdjust="spacingAndGlyphs"  stroke="#000" stroke-width="0.2">0.92100</text>
<rect x="1168" y="284" width="2" height="1" fill="#000" />
<text x="1173.3" y="288" font-size="10.1" fill="#000" text-anchor="start" font-weight="normal" textLength="32.7" lengthAdjust="spacingAndGlyphs"  stroke="#000" stroke-width="0.2">0.91700</text>
<rect x="1168" y="317" width="2" height="1" fill="#000" />
<text x="1173.3" y="321" font-size="10.1" fill="#000" text-anchor="start" font-weight="normal" textLength="32.7" lengthAdjust="spacingAndGlyphs"  stroke="#000" stroke-width="0.2">0.91300</text>
<rect x="1168" y="350" width="2" height="1" fill="#000" />
<text x="1173.3" y="354" font-size="10.1" fill="#000" text-anchor="start" font-weight="normal" textLength="32.7" lengthAdjust="spacingAndGlyphs"  stroke="#000" stroke-width="0.2">0.90890</text>
<rect x="1168" y="383" width="2" height="1" fill="#000" />
<text x="1173.3" y="387" font-size="10.1" fill="#000" text-anchor="start" font-weight="normal" textLength="32.7" lengthAdjust="spacingAndGlyphs"  stroke="#000" stroke-width="0.2">0.90490</text>
<rect x="1168" y="416" width="2" height="1" fill="#000" />
<text x="1173.3" y="420" font-size="10.1" fill="#000" text-anchor="start" font-weight="normal" textLength="32.7" lengthAdjust="spacingAndGlyphs"  stroke="#000" stroke-width="0.2">0.90090</text>
<rect x="1168" y="421" width="2" height="1" fill="#000" />
<rect x="1168" y="463" width="2" height="1" fill="#000" />
<rect x="1168" y="493" width="2" height="1" fill="#000" />
<rect x="1168" y="495" width="2" height="1" fill="#000" />
<rect x="1168" y="569" width="2" height="1" fill="#000" />
<text x="1171.4" y="432" font-size="10.1" fill="#000" text-anchor="start" font-weight="normal" textLength="37.3" lengthAdjust="spacingAndGlyphs"  stroke="#000" stroke-width="0.2">0.004913</text>
<text x="1171.4" y="467" font-size="10.1" fill="#000" text-anchor="start" font-weight="normal" textLength="17.2" lengthAdjust="spacingAndGlyphs"  stroke="#000" stroke-width="0.2">0.00</text>
<text x="1171.7" y="490" font-size="10.1" fill="#000" text-anchor="start" font-weight="normal" textLength="40.5" lengthAdjust="spacingAndGlyphs"  stroke="#000" stroke-width="0.2">-0.003614</text>
<text x="1171.7" y="506" font-size="10.1" fill="#000" text-anchor="start" font-weight="normal" textLength="14.3" lengthAdjust="spacingAndGlyphs"  stroke="#000" stroke-width="0.2">100</text>
<text x="1170.4" y="522" font-size="10.1" fill="#000" text-anchor="start" font-weight="normal" textLength="9.7" lengthAdjust="spacingAndGlyphs"  stroke="#000" stroke-width="0.2">70</text>
<text x="1170.4" y="551" font-size="10.1" fill="#000" text-anchor="start" font-weight="normal" textLength="9.7" lengthAdjust="spacingAndGlyphs"  stroke="#000" stroke-width="0.2">30</text>
<text x="1171.4" y="566" font-size="10.1" fill="#000" text-anchor="start" font-weight="normal" textLength="4.8" lengthAdjust="spacingAndGlyphs"  stroke="#000" stroke-width="0.2">0</text>
<rect x="1169" y="105" width="41" height="11" fill="#ff0000" />
<text x="1173.3" y="114" font-size="10.1" fill="#fff" text-anchor="start" font-weight="normal" textLength="32.7" lengthAdjust="spacingAndGlyphs"  stroke="#fff" stroke-width="0.2">0.93807</text>
<rect x="1169" y="171" width="41" height="11" fill="#00ff7f" />
<text x="1173.3" y="180" font-size="10.1" fill="#fff" text-anchor="start" font-weight="normal" textLength="32.7" lengthAdjust="spacingAndGlyphs"  stroke="#fff" stroke-width="0.2">0.93014</text>
<rect x="1169" y="221" width="41" height="11" fill="#0000ff" />
<text x="1173.3" y="230" font-size="10.1" fill="#fff" text-anchor="start" font-weight="normal" textLength="32.7" lengthAdjust="spacingAndGlyphs"  stroke="#fff" stroke-width="0.2">0.92403</text>
<rect x="1169" y="270" width="41" height="11" fill="#0000ff" />
<text x="1173.3" y="279" font-size="10.1" fill="#fff" text-anchor="start" font-weight="normal" textLength="32.7" lengthAdjust="spacingAndGlyphs"  stroke="#fff" stroke-width="0.2">0.91800</text>
<rect x="1169" y="68" width="41" height="11" fill="#000000" />
<text x="1173.3" y="77" font-size="10.1" fill="#fff" text-anchor="start" font-weight="normal" textLength="32.7" lengthAdjust="spacingAndGlyphs"  stroke="#fff" stroke-width="0.2">0.94280</text>
<rect x="5" y="570" width="1" height="3" fill="#000" />
<text x="4.6" y="582" font-size="10.1" fill="#000" text-anchor="start" font-weight="normal" textLength="45.6" lengthAdjust="spacingAndGlyphs"  stroke="#000" stroke-width="0.2">21 Jul 2021</text>
<rect x="69" y="570" width="1" height="3" fill="#000" />
<text x="68.6" y="582" font-size="10.1" fill="#000" text-anchor="start" font-weight="normal" textLength="47.2" lengthAdjust="spacingAndGlyphs"  stroke="#000" stroke-width="0.2">9 Aug 2021</text>
<rect x="133" y="570" width="1" height="3" fill="#000" />
<text x="132.6" y="582" font-size="10.1" fill="#000" text-anchor="start" font-weight="normal" textLength="52" lengthAdjust="spacingAndGlyphs"  stroke="#000" stroke-width="0.2">27 Aug 2021</text>
<rect x="197" y="570" width="1" height="3" fill="#000" />
<text x="196.6" y="582" font-size="10.1" fill="#000" text-anchor="start" font-weight="normal" textLength="50.8" lengthAdjust="spacingAndGlyphs"  stroke="#000" stroke-width="0.2">15 Sep 2021</text>
<rect x="261" y="570" width="1" height="3" fill="#000" />
<text x="260.6" y="582" font-size="10.1" fill="#000" text-anchor="start" font-weight="normal" textLength="44.9" lengthAdjust="spacingAndGlyphs"  stroke="#000" stroke-width="0.2">4 Oct 2021</text>
<rect x="325" y="570" width="1" height="3" fill="#000" />
<text x="324.6" y="582" font-size="10.1" fill="#000" text-anchor="start" font-weight="normal" textLength="50" lengthAdjust="spacingAndGlyphs"  stroke="#000" stroke-width="0.2">22 Oct 2021</text>
<rect x="389" y="570" width="1" height="3" fill="#000" />
<text x="388.6" y="582" font-size="10.1" fill="#000" text-anchor="start" font-weight="normal" textLength="52.8" lengthAdjust="spacingAndGlyphs"  stroke="#000" stroke-width="0.2">10 Nov 2021</text>
<rect x="453" y="570" width="1" height="3" fill="#000" />
<text x="452.6" y="582" font-size="10.1" fill="#000" text-anchor="start" font-weight="normal" textLength="52.4" lengthAdjust="spacingAndGlyphs"  stroke="#000" stroke-width="0.2">29 Nov 2021</text>
<rect x="517" y="570" width="1" height="3" fill="#000" />
<text x="516.6" y="582" font-size="10.1" fill="#000" text-anchor="start" font-weight="normal" textLength="50.2" lengthAdjust="spacingAndGlyphs"  stroke="#000" stroke-width="0.2">17 Dec 2021</text>
<rect x="581" y="570" width="1" height="3" fill="#000" />
<text x="580.6" y="582" font-size="10.1" fill="#000" text-anchor="start" font-weight="normal" textLength="44.3" lengthAdjust="spacingAndGlyphs"  stroke="#000" stroke-width="0.2">5 Jan 2022</text>
<rect x="645" y="570" width="1" height="3" fill="#000" />
<text x="644.6" y="582" font-size="10.1" fill="#000" text-anchor="start" font-weight="normal" textLength="48.5" lengthAdjust="spacingAndGlyphs"  stroke="#000" stroke-width="0.2">24 Jan 2022</text>
<rect x="709" y="570" width="1" height="3" fill="#000" />
<text x="708.6" y="582" font-size="10.1" fill="#000" text-anchor="start" font-weight="normal" textLength="49.9" lengthAdjust="spacingAndGlyphs"  stroke="#000" stroke-width="0.2">11 Feb 2022</text>
<rect x="773" y="570" width="1" height="3" fill="#000" />
<text x="772.6" y="582" font-size="10.1" fill="#000" text-anchor="start" font-weight="normal" textLength="44.7" lengthAdjust="spacingAndGlyphs"  stroke="#000" stroke-width="0.2">2 Mar 2022</text>
<rect x="837" y="570" width="1" height="3" fill="#000" />
<text x="836.6" y="582" font-size="10.1" fill="#000" text-anchor="start" font-weight="normal" textLength="49.4" lengthAdjust="spacingAndGlyphs"  stroke="#000" stroke-width="0.2">21 Mar 2022</text>
<rect x="901" y="570" width="1" height="3" fill="#000" />
<text x="900.6" y="582" font-size="10.1" fill="#000" text-anchor="start" font-weight="normal" textLength="44.7" lengthAdjust="spacingAndGlyphs"  stroke="#000" stroke-width="0.2">8 Apr 2022</text>
<path d="M8 38.5 L15.5 38.5 L11.75 34 Z" fill="#000"/>
<text x="20.3" y="39" font-size="10.1" fill="#000" text-anchor="start" font-weight="normal" textLength="67" lengthAdjust="spacingAndGlyphs"  stroke="#000" stroke-width="0.2">USDCHF-,Daily</text>
<text x="94.3" y="39" font-size="10.1" fill="#000" text-anchor="start" font-weight="normal" textLength="32" lengthAdjust="spacingAndGlyphs"  stroke="#000" stroke-width="0.2">0.94291</text>
<text x="130.3" y="39" font-size="10.1" fill="#000" text-anchor="start" font-weight="normal" textLength="32.7" lengthAdjust="spacingAndGlyphs"  stroke="#000" stroke-width="0.2">0.94419</text>
<text x="166.3" y="39" font-size="10.1" fill="#000" text-anchor="start" font-weight="normal" textLength="32.2" lengthAdjust="spacingAndGlyphs"  stroke="#000" stroke-width="0.2">0.94102</text>
<text x="202.3" y="39" font-size="10.1" fill="#000" text-anchor="start" font-weight="normal" textLength="32.7" lengthAdjust="spacingAndGlyphs"  stroke="#000" stroke-width="0.2">0.94280</text>
<text x="9" y="434" font-size="10.1" fill="#000" text-anchor="start" font-weight="normal" textLength="148" lengthAdjust="spacingAndGlyphs"  stroke="#000" stroke-width="0.2">MACD(12,26,9) 0.002567 0.001116</text>
<text x="9" y="508" font-size="10.1" fill="#000" text-anchor="start" font-weight="normal" textLength="68" lengthAdjust="spacingAndGlyphs"  stroke="#000" stroke-width="0.2">RSI(14) 67.4707</text>
<defs>
<linearGradient id="gb" x1="0" y1="0" x2="0" y2="1"><stop offset="0" stop-color="#5a5aff"/><stop offset="1" stop-color="#3a3ae4"/></linearGradient>
<linearGradient id="gp" x1="0" y1="0" x2="0" y2="1"><stop offset="0" stop-color="#3030dc"/><stop offset="1" stop-color="#00009c"/></linearGradient>
<linearGradient id="gpu" gradientUnits="userSpaceOnUse" x1="0" y1="71" x2="0" y2="103.7"><stop offset="0" stop-color="#3030dc"/><stop offset="1" stop-color="#00009c"/></linearGradient>
<linearGradient id="gs" x1="0" y1="0" x2="0" y2="1"><stop offset="0" stop-color="#f4f4f4"/><stop offset="0.5" stop-color="#e0e0e0"/><stop offset="0.5" stop-color="#d0d0d0"/><stop offset="1" stop-color="#c8c8c8"/></linearGradient>
</defs>
<rect x="8" y="47" width="51.5" height="24" fill="url(#gb)" />
<rect x="175.5" y="47" width="51.5" height="24" fill="url(#gb)" />
<rect x="8" y="71" width="109" height="32.7" fill="url(#gp)" />
<rect x="119" y="71" width="108" height="32.7" fill="url(#gp)" />
<rect x="12" y="70.2" width="44" height="1.3" fill="#8080f8" />
<rect x="179" y="70.2" width="44" height="1.3" fill="#8080f8" />
<rect x="8" y="47" width="1" height="56.7" fill="#0000b0" opacity="0.55"/>
<rect x="8" y="47" width="51.5" height="1" fill="#0000b0" opacity="0.55"/>
<rect x="58.5" y="47" width="1" height="24" fill="#0000b0" opacity="0.55"/>
<rect x="175.5" y="47" width="1" height="24" fill="#0000b0" opacity="0.55"/>
<rect x="175.5" y="47" width="51.5" height="1" fill="#0000b0" opacity="0.55"/>
<rect x="226" y="47" width="1" height="56.7" fill="#0000b0" opacity="0.55"/>
<rect x="116" y="71" width="1" height="32.7" fill="#0000b0" opacity="0.55"/>
<rect x="119" y="71" width="1" height="32.7" fill="#0000b0" opacity="0.55"/>
<rect x="8" y="102.7" width="109" height="1" fill="#0000b0" opacity="0.55"/>
<rect x="119" y="102.7" width="108" height="1" fill="#0000b0" opacity="0.55"/>
<rect x="62.5" y="47.5" width="110" height="21" fill="#fff" stroke="#b4b4b4" stroke-width="1"/>
<rect x="63.5" y="48.5" width="19.5" height="19" fill="url(#gs)" />
<rect x="152" y="48.5" width="20" height="19" fill="url(#gs)" />
<rect x="83" y="48" width="1" height="20" fill="#b8b8b8" />
<rect x="151" y="48" width="1" height="20" fill="#b8b8b8" />
<path d="M70 56.5 L76 56.5 L73 59.5 Z" fill="#4a5ab8"/>
<path d="M158.6 59.2 L164.6 59.2 L161.6 55.9 Z" fill="#4a5ab8"/>
<text x="148" y="61.6" font-size="12" fill="#000" text-anchor="end" font-weight="normal" textLength="23.5" lengthAdjust="spacingAndGlyphs" >0.50</text>
<text x="20" y="63" font-size="12.5" fill="#fff" text-anchor="start" font-weight="normal" textLength="26.5" lengthAdjust="spacingAndGlyphs" >SELL</text>
<text x="188" y="63" font-size="12.5" fill="#fff" text-anchor="start" font-weight="normal" textLength="24" lengthAdjust="spacingAndGlyphs" >BUY</text>
<text x="27.8" y="99" font-size="11" fill="#fff" text-anchor="start" font-weight="bold" textLength="24.5" lengthAdjust="spacingAndGlyphs" >0.94</text>
<text x="138" y="99" font-size="11" fill="#fff" text-anchor="start" font-weight="bold" textLength="24.5" lengthAdjust="spacingAndGlyphs" >0.94</text>
<text x="55.6" y="98.9" font-size="35.2" fill="#fff" text-anchor="start" font-weight="normal" textLength="35.2" lengthAdjust="spacingAndGlyphs" stroke="url(#gpu)" stroke-width="0.55">28</text>
<text x="166.1" y="98.9" font-size="35.2" fill="#fff" text-anchor="start" font-weight="normal" textLength="35.2" lengthAdjust="spacingAndGlyphs" stroke="url(#gpu)" stroke-width="0.55">35</text>
<text x="95" y="82.9" font-size="11.5" fill="#fff" text-anchor="start" font-weight="bold" textLength="7.2" lengthAdjust="spacingAndGlyphs" >0</text>
<text x="206.5" y="82.9" font-size="11.5" fill="#fff" text-anchor="start" font-weight="bold" textLength="7.2" lengthAdjust="spacingAndGlyphs" >7</text>
<rect x="0" y="590" width="1210" height="2" fill="#f0f0f0" />
<rect x="0" y="593" width="1210" height="1" fill="#fafafa" />
<rect x="0" y="594" width="1210" height="18" fill="#f0f0f0" />
<rect x="0" y="612" width="1210" height="1" fill="#fff" />
<rect x="0" y="613" width="1210" height="3" fill="#f0f0f0" />
<rect x="0" y="592" width="1210" height="1" fill="#000" />
<rect x="0" y="593" width="1" height="19" fill="#a0a0a0" />
<rect x="1" y="593" width="1" height="18" fill="#696969" />
<rect x="323" y="592" width="106" height="18" fill="#fff" />
<rect x="322" y="592" width="1" height="19" fill="#000" />
<rect x="429" y="592" width="1" height="19" fill="#000" />
<rect x="322" y="610" width="108" height="1" fill="#000" />
<rect x="430" y="594" width="1" height="17" fill="#c8c8c8" />
<text x="17.6" y="606.8" font-size="12.3" fill="#606060" text-anchor="start" font-weight="normal" textLength="77.3" lengthAdjust="spacingAndGlyphs" >USDX,Weekly</text>
<text x="117.6" y="606.8" font-size="12.3" fill="#606060" text-anchor="start" font-weight="normal" textLength="84.7" lengthAdjust="spacingAndGlyphs" >EURUSD-,Daily</text>
<text x="224.3" y="606.8" font-size="12.3" fill="#606060" text-anchor="start" font-weight="normal" textLength="86.4" lengthAdjust="spacingAndGlyphs" >AUDUSD-,Daily</text>
<text x="441.3" y="606.8" font-size="12.3" fill="#606060" text-anchor="start" font-weight="normal" textLength="85.7" lengthAdjust="spacingAndGlyphs" >USDCAD-,Daily</text>
<text x="549.1" y="606.8" font-size="12.3" fill="#606060" text-anchor="start" font-weight="normal" textLength="102.3" lengthAdjust="spacingAndGlyphs" >USDCNH-,Weekly</text>
<text x="673.1" y="606.8" font-size="12.3" fill="#606060" text-anchor="start" font-weight="normal" textLength="85.4" lengthAdjust="spacingAndGlyphs" >XAUUSD-,Daily</text>
<text x="782.2" y="606.8" font-size="12.3" fill="#606060" text-anchor="start" font-weight="normal" textLength="68.0" lengthAdjust="spacingAndGlyphs" >UKOil-,Daily</text>
<text x="873.9" y="606.8" font-size="12.3" fill="#606060" text-anchor="start" font-weight="normal" textLength="64.0" lengthAdjust="spacingAndGlyphs" >DJ30-,Daily</text>
<text x="961.3" y="606.8" font-size="12.3" fill="#606060" text-anchor="start" font-weight="normal" textLength="61.3" lengthAdjust="spacingAndGlyphs" >UK100-,H1</text>
<text x="1046.4" y="606.8" font-size="12.3" fill="#606060" text-anchor="start" font-weight="normal" textLength="55.2" lengthAdjust="spacingAndGlyphs" >USOil-,H1</text>
<text x="1124.6" y="606.8" font-size="12.3" fill="#606060" text-anchor="start" font-weight="normal" textLength="52.6" lengthAdjust="spacingAndGlyphs" >HK50-,H1</text>
<text x="334.8" y="606.8" font-size="12.3" fill="#000" text-anchor="start" font-weight="normal" textLength="82.8" lengthAdjust="spacingAndGlyphs" >USDCHF-,Daily</text>
<rect x="107" y="595.5" width="1" height="13" fill="#707070" />
<rect x="214" y="595.5" width="1" height="13" fill="#707070" />
<rect x="538" y="595.5" width="1" height="13" fill="#707070" />
<rect x="662" y="595.5" width="1" height="13" fill="#707070" />
<rect x="770" y="595.5" width="1" height="13" fill="#707070" />
<rect x="862" y="595.5" width="1" height="13" fill="#707070" />
<rect x="950" y="595.5" width="1" height="13" fill="#707070" />
<rect x="1034" y="595.5" width="1" height="13" fill="#707070" />
<rect x="1114" y="595.5" width="1" height="13" fill="#707070" />
<path d="M1186.2 598.3 L1186.2 604 L1183 601.2 Z" fill="#9a9a9a"/>
<path d="M1201.5 597.4 L1201.5 604.8 L1205.6 601.1 Z" fill="#000"/>
</svg>
</body></html>
